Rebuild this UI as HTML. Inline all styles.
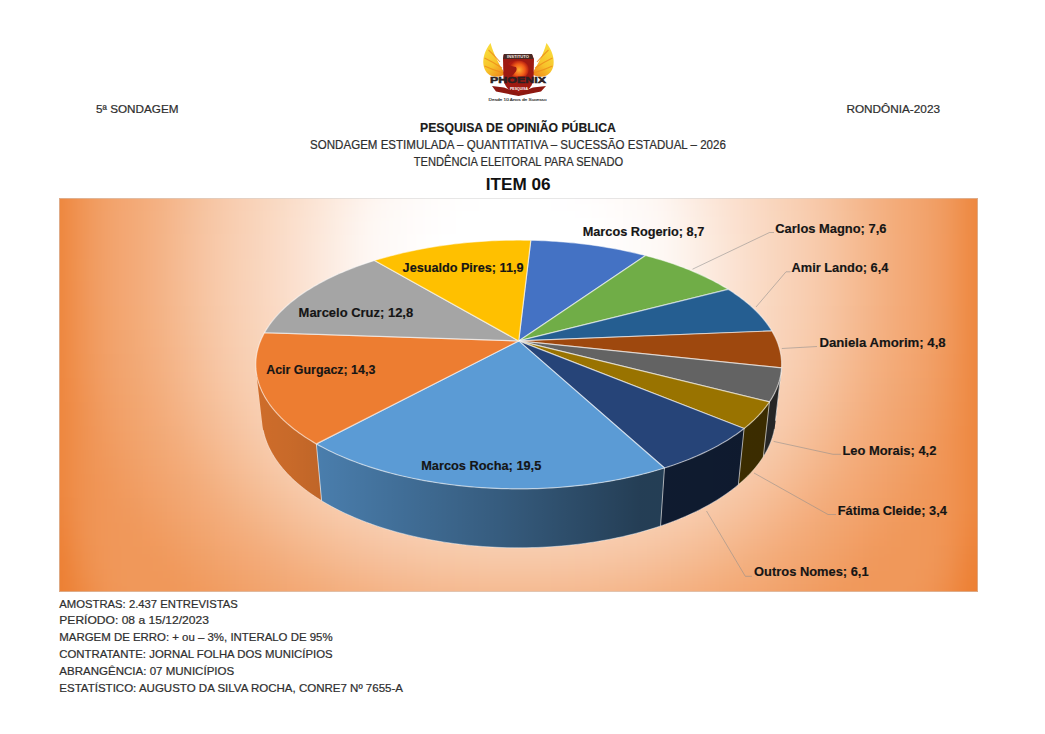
<!DOCTYPE html>
<html><head><meta charset="utf-8"><style>
html,body{margin:0;padding:0;background:#fff;}
svg{display:block;font-family:"Liberation Sans", sans-serif;}
</style></head><body>
<svg width="1045" height="734" viewBox="0 0 1045 734">
<defs>

<linearGradient id="shade" gradientUnits="userSpaceOnUse" x1="255" y1="0" x2="782" y2="0">
  <stop offset="0" stop-color="#000" stop-opacity="0.13"/>
  <stop offset="0.066" stop-color="#000" stop-opacity="0.155"/>
  <stop offset="0.18" stop-color="#000" stop-opacity="0.23"/>
  <stop offset="0.465" stop-color="#000" stop-opacity="0.41"/>
  <stop offset="0.73" stop-color="#000" stop-opacity="0.60"/>
  <stop offset="1" stop-color="#000" stop-opacity="0.62"/>
</linearGradient>
<clipPath id="sideclip"><path d="M781.38,370.20 L781.11,372.45 L774.97,425.52 L775.25,423.15ZM781.11,372.45 L780.76,374.71 L774.61,427.91 L774.97,425.52ZM780.76,374.71 L780.32,376.97 L774.16,430.29 L774.61,427.91ZM780.32,376.97 L779.80,379.24 L773.63,432.69 L774.16,430.29ZM779.80,379.24 L779.18,381.51 L773.00,435.08 L773.63,432.69ZM779.18,381.51 L778.47,383.79 L772.29,437.47 L773.00,435.08ZM778.47,383.79 L777.67,386.06 L771.49,439.87 L772.29,437.47ZM777.67,386.06 L776.77,388.33 L770.59,442.26 L771.49,439.87ZM776.77,388.33 L775.79,390.60 L769.61,444.66 L770.59,442.26ZM775.79,390.60 L774.71,392.88 L768.54,447.05 L769.61,444.66ZM774.71,392.88 L773.54,395.15 L767.38,449.44 L768.54,447.05ZM773.54,395.15 L772.27,397.41 L766.12,451.83 L767.38,449.44ZM772.27,397.41 L770.91,399.67 L764.77,454.21 L766.12,451.83ZM770.91,399.67 L769.45,401.93 L763.33,456.58 L764.77,454.21Z"/><path d="M316.37,443.90 L313.32,442.13 L318.62,498.83 L321.60,500.69ZM313.32,442.13 L310.35,440.34 L315.71,496.95 L318.62,498.83ZM310.35,440.34 L307.45,438.53 L312.88,495.05 L315.71,496.95ZM307.45,438.53 L304.64,436.69 L310.12,493.13 L312.88,495.05ZM304.64,436.69 L301.90,434.84 L307.44,491.18 L310.12,493.13ZM301.90,434.84 L299.24,432.97 L304.83,489.22 L307.44,491.18ZM299.24,432.97 L296.66,431.09 L302.30,487.24 L304.83,489.22ZM296.66,431.09 L294.15,429.18 L299.85,485.24 L302.30,487.24ZM294.15,429.18 L291.73,427.26 L297.47,483.22 L299.85,485.24ZM291.73,427.26 L289.39,425.33 L295.17,481.19 L297.47,483.22ZM289.39,425.33 L287.12,423.38 L292.95,479.14 L295.17,481.19ZM287.12,423.38 L284.94,421.41 L290.80,477.07 L292.95,479.14ZM284.94,421.41 L282.83,419.44 L288.73,475.00 L290.80,477.07ZM282.83,419.44 L280.81,417.45 L286.74,472.91 L288.73,475.00ZM280.81,417.45 L278.87,415.45 L284.83,470.81 L286.74,472.91ZM278.87,415.45 L277.00,413.44 L283.00,468.69 L284.83,470.81ZM277.00,413.44 L275.22,411.42 L281.24,466.57 L283.00,468.69ZM275.22,411.42 L273.52,409.40 L279.56,464.44 L281.24,466.57ZM273.52,409.40 L271.89,407.36 L277.96,462.30 L279.56,464.44ZM271.89,407.36 L270.35,405.32 L276.44,460.15 L277.96,462.30ZM270.35,405.32 L268.89,403.27 L275.00,458.00 L276.44,460.15ZM268.89,403.27 L267.50,401.22 L273.63,455.83 L275.00,458.00ZM267.50,401.22 L266.20,399.16 L272.34,453.67 L273.63,455.83ZM266.20,399.16 L264.97,397.10 L271.12,451.50 L272.34,453.67ZM264.97,397.10 L263.82,395.03 L269.99,449.32 L271.12,451.50ZM263.82,395.03 L262.76,392.96 L268.92,447.14 L269.99,449.32ZM262.76,392.96 L261.76,390.89 L267.94,444.96 L268.92,447.14ZM261.76,390.89 L260.85,388.82 L267.03,442.78 L267.94,444.96ZM260.85,388.82 L260.01,386.74 L266.20,440.59 L267.03,442.78ZM260.01,386.74 L259.26,384.67 L265.44,438.41 L266.20,440.59ZM259.26,384.67 L258.57,382.60 L264.75,436.22 L265.44,438.41ZM258.57,382.60 L257.96,380.53 L264.14,434.04 L264.75,436.22ZM257.96,380.53 L257.43,378.46 L263.60,431.86 L264.14,434.04ZM257.43,378.46 L256.98,376.39 L263.14,429.68 L263.60,431.86ZM256.98,376.39 L256.59,374.32 L262.74,427.50 L263.14,429.68ZM256.59,374.32 L256.28,372.26 L262.42,425.33 L262.74,427.50Z"/><path d="M769.45,401.93 L767.88,404.20 L761.78,458.98 L763.33,456.58ZM767.88,404.20 L766.21,406.47 L760.13,461.36 L761.78,458.98ZM766.21,406.47 L764.45,408.73 L758.39,463.74 L760.13,461.36ZM764.45,408.73 L762.58,410.99 L756.55,466.11 L758.39,463.74ZM762.58,410.99 L760.62,413.23 L754.62,468.47 L756.55,466.11ZM760.62,413.23 L758.55,415.46 L752.59,470.81 L754.62,468.47ZM758.55,415.46 L756.39,417.67 L750.46,473.14 L752.59,470.81ZM756.39,417.67 L754.13,419.88 L748.24,475.46 L750.46,473.14ZM754.13,419.88 L751.77,422.06 L745.92,477.76 L748.24,475.46ZM751.77,422.06 L749.31,424.24 L743.51,480.04 L745.92,477.76ZM749.31,424.24 L746.76,426.39 L741.00,482.31 L743.51,480.04ZM746.76,426.39 L744.10,428.53 L738.39,484.55 L741.00,482.31Z"/><path d="M744.10,428.53 L741.53,430.51 L735.87,486.64 L738.39,484.55ZM741.53,430.51 L738.87,432.48 L733.27,488.70 L735.87,486.64ZM738.87,432.48 L736.13,434.43 L730.58,490.74 L733.27,488.70ZM736.13,434.43 L733.30,436.35 L727.81,492.77 L730.58,490.74ZM733.30,436.35 L730.39,438.26 L724.96,494.77 L727.81,492.77ZM730.39,438.26 L727.39,440.14 L722.02,496.75 L724.96,494.77ZM727.39,440.14 L724.31,442.01 L719.01,498.70 L722.02,496.75ZM724.31,442.01 L721.15,443.85 L715.92,500.63 L719.01,498.70ZM721.15,443.85 L717.91,445.66 L712.75,502.54 L715.92,500.63ZM717.91,445.66 L714.58,447.45 L709.50,504.42 L712.75,502.54ZM714.58,447.45 L711.18,449.21 L706.17,506.27 L709.50,504.42ZM711.18,449.21 L707.70,450.95 L702.77,508.09 L706.17,506.27ZM707.70,450.95 L704.14,452.66 L699.29,509.88 L702.77,508.09ZM704.14,452.66 L700.50,454.34 L695.73,511.64 L699.29,509.88ZM700.50,454.34 L696.78,455.99 L692.10,513.37 L695.73,511.64ZM696.78,455.99 L692.99,457.60 L688.40,515.06 L692.10,513.37ZM692.99,457.60 L689.13,459.19 L684.63,516.73 L688.40,515.06ZM689.13,459.19 L685.19,460.74 L680.79,518.36 L684.63,516.73ZM685.19,460.74 L681.18,462.26 L676.88,519.95 L680.79,518.36ZM681.18,462.26 L677.10,463.75 L672.90,521.51 L676.88,519.95ZM677.10,463.75 L672.95,465.20 L668.85,523.03 L672.90,521.51ZM672.95,465.20 L668.74,466.61 L664.74,524.51 L668.85,523.03ZM668.74,466.61 L664.46,467.99 L660.57,525.95 L664.74,524.51Z"/><path d="M664.46,467.99 L660.31,469.27 L656.53,527.29 L660.57,525.95ZM660.31,469.27 L656.11,470.52 L652.43,528.60 L656.53,527.29ZM656.11,470.52 L651.84,471.73 L648.28,529.86 L652.43,528.60ZM651.84,471.73 L647.53,472.90 L644.07,531.09 L648.28,529.86ZM647.53,472.90 L643.16,474.03 L639.82,532.28 L644.07,531.09ZM643.16,474.03 L638.74,475.13 L635.51,533.43 L639.82,532.28ZM638.74,475.13 L634.27,476.19 L631.16,534.54 L635.51,533.43ZM634.27,476.19 L629.76,477.21 L626.76,535.61 L631.16,534.54ZM629.76,477.21 L625.19,478.19 L622.32,536.63 L626.76,535.61ZM625.19,478.19 L620.59,479.13 L617.83,537.62 L622.32,536.63ZM620.59,479.13 L615.94,480.03 L613.30,538.56 L617.83,537.62ZM615.94,480.03 L611.24,480.89 L608.74,539.46 L613.30,538.56ZM611.24,480.89 L606.51,481.71 L604.13,540.31 L608.74,539.46ZM606.51,481.71 L601.75,482.48 L599.49,541.12 L604.13,540.31ZM601.75,482.48 L596.95,483.21 L594.82,541.89 L599.49,541.12ZM596.95,483.21 L592.11,483.90 L590.11,542.61 L594.82,541.89ZM592.11,483.90 L587.24,484.55 L585.38,543.28 L590.11,542.61ZM587.24,484.55 L582.35,485.15 L580.61,543.91 L585.38,543.28ZM582.35,485.15 L577.42,485.70 L575.82,544.50 L580.61,543.91ZM577.42,485.70 L572.48,486.22 L571.01,545.03 L575.82,544.50ZM572.48,486.22 L567.50,486.68 L566.17,545.52 L571.01,545.03ZM567.50,486.68 L562.51,487.11 L561.31,545.96 L566.17,545.52ZM562.51,487.11 L557.50,487.48 L556.44,546.36 L561.31,545.96ZM557.50,487.48 L552.47,487.82 L551.55,546.70 L556.44,546.36ZM552.47,487.82 L547.43,488.10 L546.64,547.00 L551.55,546.70ZM547.43,488.10 L542.37,488.34 L541.73,547.25 L546.64,547.00ZM542.37,488.34 L537.31,488.53 L536.80,547.46 L541.73,547.25ZM537.31,488.53 L532.24,488.68 L531.87,547.61 L536.80,547.46ZM532.24,488.68 L527.16,488.78 L526.93,547.71 L531.87,547.61ZM527.16,488.78 L522.07,488.83 L521.98,547.77 L526.93,547.71ZM522.07,488.83 L516.99,488.84 L517.04,547.78 L521.98,547.77ZM516.99,488.84 L511.91,488.80 L512.09,547.74 L517.04,547.78ZM511.91,488.80 L506.82,488.72 L507.15,547.65 L512.09,547.74ZM506.82,488.72 L501.75,488.59 L502.21,547.51 L507.15,547.65ZM501.75,488.59 L496.68,488.41 L497.28,547.32 L502.21,547.51ZM496.68,488.41 L491.62,488.18 L492.36,547.09 L497.28,547.32ZM491.62,488.18 L486.58,487.91 L487.45,546.81 L492.36,547.09ZM486.58,487.91 L481.54,487.60 L482.56,546.47 L487.45,546.81ZM481.54,487.60 L476.53,487.23 L477.68,546.10 L482.56,546.47ZM476.53,487.23 L471.53,486.83 L472.82,545.67 L477.68,546.10ZM471.53,486.83 L466.55,486.37 L467.97,545.20 L472.82,545.67ZM466.55,486.37 L461.59,485.88 L463.15,544.67 L467.97,545.20ZM461.59,485.88 L456.66,485.33 L458.35,544.11 L463.15,544.67ZM456.66,485.33 L451.76,484.75 L453.58,543.49 L458.35,544.11ZM451.76,484.75 L446.88,484.11 L448.83,542.83 L453.58,543.49ZM446.88,484.11 L442.03,483.44 L444.12,542.13 L448.83,542.83ZM442.03,483.44 L437.22,482.72 L439.43,541.37 L444.12,542.13ZM437.22,482.72 L432.44,481.96 L434.78,540.58 L439.43,541.37ZM432.44,481.96 L427.70,481.16 L430.17,539.74 L434.78,540.58ZM427.70,481.16 L423.00,480.31 L425.59,538.85 L430.17,539.74ZM423.00,480.31 L418.33,479.43 L421.05,537.93 L425.59,538.85ZM418.33,479.43 L413.71,478.50 L416.55,536.95 L421.05,537.93ZM413.71,478.50 L409.13,477.53 L412.09,535.94 L416.55,536.95ZM409.13,477.53 L404.60,476.52 L407.68,534.89 L412.09,535.94ZM404.60,476.52 L400.12,475.48 L403.31,533.79 L407.68,534.89ZM400.12,475.48 L395.68,474.39 L398.99,532.65 L403.31,533.79ZM395.68,474.39 L391.30,473.27 L394.72,531.48 L398.99,532.65ZM391.30,473.27 L386.96,472.11 L390.50,530.26 L394.72,531.48ZM386.96,472.11 L382.69,470.91 L386.33,529.01 L390.50,530.26ZM382.69,470.91 L378.46,469.68 L382.21,527.72 L386.33,529.01ZM378.46,469.68 L374.30,468.41 L378.15,526.39 L382.21,527.72ZM374.30,468.41 L370.19,467.11 L374.14,525.02 L378.15,526.39ZM370.19,467.11 L366.14,465.77 L370.20,523.62 L374.14,525.02ZM366.14,465.77 L362.15,464.40 L366.31,522.18 L370.20,523.62ZM362.15,464.40 L358.22,462.99 L362.48,520.71 L366.31,522.18ZM358.22,462.99 L354.36,461.56 L358.71,519.21 L362.48,520.71ZM354.36,461.56 L350.56,460.09 L355.01,517.67 L358.71,519.21ZM350.56,460.09 L346.83,458.60 L351.36,516.11 L355.01,517.67ZM346.83,458.60 L343.17,457.07 L347.79,514.51 L351.36,516.11ZM343.17,457.07 L339.57,455.52 L344.27,512.88 L347.79,514.51ZM339.57,455.52 L336.04,453.94 L340.83,511.22 L344.27,512.88ZM336.04,453.94 L332.58,452.33 L337.45,509.53 L340.83,511.22ZM332.58,452.33 L329.20,450.69 L334.14,507.81 L337.45,509.53ZM329.20,450.69 L325.88,449.03 L330.90,506.07 L334.14,507.81ZM325.88,449.03 L322.64,447.34 L327.73,504.30 L330.90,506.07ZM322.64,447.34 L319.46,445.63 L324.63,502.51 L327.73,504.30ZM319.46,445.63 L316.37,443.90 L321.60,500.69 L324.63,502.51Z"/></clipPath>
</defs>
<rect width="1045" height="734" fill="#fff"/>

<g id="logo">
  <defs>
    <linearGradient id="wingL" gradientUnits="userSpaceOnUse" x1="486" y1="50" x2="506" y2="72">
      <stop offset="0" stop-color="#F9DA3A"/><stop offset="0.55" stop-color="#F7C22A"/><stop offset="1" stop-color="#F08A1C"/>
    </linearGradient>
    <linearGradient id="wingR" gradientUnits="userSpaceOnUse" x1="551" y1="50" x2="531" y2="72">
      <stop offset="0" stop-color="#F9DA3A"/><stop offset="0.55" stop-color="#F7C22A"/><stop offset="1" stop-color="#F08A1C"/>
    </linearGradient>
    <radialGradient id="headG" cx="519" cy="70" r="10" gradientUnits="userSpaceOnUse">
      <stop offset="0" stop-color="#FFB030"/><stop offset="0.6" stop-color="#F05A18"/><stop offset="1" stop-color="#B01A10"/>
    </radialGradient>
  </defs>
  <path d="M505,74 C500,65 494,56 490.5,43 C485,50 482.5,58 483.5,65 C484.5,71 488,75.5 494,76.5 C498,77 502,76.5 505,74 Z" fill="url(#wingL)"/>
  <path d="M 532,74 C 537,65 543,56 546.5,43 C 552,50 554.5,58 553.5,65 C 552.5,71 549,75.5 543,76.5 C 539,77 535,76.5 532,74 Z" fill="url(#wingR)"/>
  <g fill="none" stroke="#EE8A1A" stroke-width="1.1" stroke-opacity="0.8">
    <path d="M488.5,50 Q494,55 500,62"/><path d="M 548.5,50 Q 543,55 537,62"/>
    <path d="M484.5,58 Q493,62 502,68"/><path d="M 552.5,58 Q 544,62 535,68"/>
    <path d="M484.5,66 Q493,70 503.5,73"/><path d="M 552.5,66 Q 544,70 533.5,73"/>
  </g>
  <!-- shield -->
  <path d="M503.5,54.5 L532,54.5 L534,59 L533.5,80 C532,88 526,92 518.5,95.5 C511,92 505,88 503.5,80 L503,59 Z" fill="#9E1A12"/>
  <path d="M504,54 L532,54 L533.5,59 L503,59 Z" fill="#4a2a24"/>
  <text x="518" y="58.3" text-anchor="middle" font-family="Liberation Sans" font-weight="bold" font-size="3.6" fill="#f2e8e0" textLength="22" lengthAdjust="spacingAndGlyphs">INSTITUTO</text>
  <path d="M508,64 C511,60 522,59 527,64 C530,68 529,73 526,76 L511,77 C515,73 518,70 516,67 C513,66 510,66 508,64 Z" fill="url(#headG)"/>
  <path d="M492,86 L504,87.5 L518.5,93 L533,87.5 L546,86 L541,91.5 L518.5,96 L496,91.5 Z" fill="#8E1810"/>
  <text x="518" y="82.6" text-anchor="middle" font-family="Liberation Sans" font-weight="bold" font-size="9.3" fill="#2b2022" stroke="#2b2022" stroke-width="0.5" textLength="56" lengthAdjust="spacingAndGlyphs">PHOENIX</text>
  <text x="519" y="90.3" text-anchor="middle" font-family="Liberation Sans" font-weight="bold" font-size="4" fill="#fff" textLength="18" lengthAdjust="spacingAndGlyphs">PESQUISA</text>
  <text x="517.6" y="100.6" text-anchor="middle" font-family="Liberation Sans" font-size="4.2" fill="#333" stroke="#333" stroke-width="0.15" textLength="58" lengthAdjust="spacingAndGlyphs">Desde 10 Anos de Sucesso</text>
</g>
<text x="96.1" y="112.8" textLength="82.4" lengthAdjust="spacingAndGlyphs" font-size="11" font-weight="normal" fill="#2e2e2e" stroke="#2e2e2e" stroke-width="0.2" >5ª SONDAGEM</text><text x="846.4" y="112.5" textLength="93.6" lengthAdjust="spacingAndGlyphs" font-size="11" font-weight="normal" fill="#2e2e2e" stroke="#2e2e2e" stroke-width="0.2" >RONDÔNIA-2023</text><text x="420.0" y="131.5" textLength="195.8" lengthAdjust="spacingAndGlyphs" font-size="12.3" font-weight="bold" fill="#1a1a1a" stroke="#1a1a1a" stroke-width="0.15" >PESQUISA DE OPINIÃO PÚBLICA</text><text x="310.1" y="148.6" textLength="415.8" lengthAdjust="spacingAndGlyphs" font-size="12.2" font-weight="normal" fill="#2e2e2e" stroke="#2e2e2e" stroke-width="0.2" >SONDAGEM ESTIMULADA – QUANTITATIVA – SUCESSÃO ESTADUAL – 2026</text><text x="413.7" y="166.3" textLength="209.5" lengthAdjust="spacingAndGlyphs" font-size="12.2" font-weight="normal" fill="#2e2e2e" stroke="#2e2e2e" stroke-width="0.2" >TENDÊNCIA ELEITORAL PARA SENADO</text><text x="485.8" y="190.0" textLength="64.8" lengthAdjust="spacingAndGlyphs" font-size="16.2" font-weight="bold" fill="#111" stroke="#111" stroke-width="0.15" stroke-opacity="0">ITEM 06</text><text x="59.3" y="607.7" textLength="178.5" lengthAdjust="spacingAndGlyphs" font-size="11" font-weight="normal" fill="#2e2e2e" stroke="#2e2e2e" stroke-width="0.2" >AMOSTRAS: 2.437 ENTREVISTAS</text><text x="59.3" y="624.4" textLength="149.6" lengthAdjust="spacingAndGlyphs" font-size="11" font-weight="normal" fill="#2e2e2e" stroke="#2e2e2e" stroke-width="0.2" >PERÍODO: 08 a 15/12/2023</text><text x="59.3" y="641.4" textLength="273.3" lengthAdjust="spacingAndGlyphs" font-size="11" font-weight="normal" fill="#2e2e2e" stroke="#2e2e2e" stroke-width="0.2" >MARGEM DE ERRO: + ou – 3%, INTERALO DE 95%</text><text x="59.3" y="658.4" textLength="273.3" lengthAdjust="spacingAndGlyphs" font-size="11" font-weight="normal" fill="#2e2e2e" stroke="#2e2e2e" stroke-width="0.2" >CONTRATANTE: JORNAL FOLHA DOS MUNICÍPIOS</text><text x="59.3" y="675.1" textLength="174.9" lengthAdjust="spacingAndGlyphs" font-size="11" font-weight="normal" fill="#2e2e2e" stroke="#2e2e2e" stroke-width="0.2" >ABRANGÊNCIA: 07 MUNICÍPIOS</text><text x="59.3" y="692.0" textLength="343.7" lengthAdjust="spacingAndGlyphs" font-size="11" font-weight="normal" fill="#2e2e2e" stroke="#2e2e2e" stroke-width="0.2" >ESTATÍSTICO: AUGUSTO DA SILVA ROCHA, CONRE7 Nº 7655-A</text>
<clipPath id="chartclip"><rect x="59" y="198" width="919" height="394"/></clipPath><filter id="bgblur" filterUnits="userSpaceOnUse" x="-20" y="120" width="1100" height="560" color-interpolation-filters="sRGB"><feGaussianBlur stdDeviation="12"/></filter><g clip-path="url(#chartclip)"><g filter="url(#bgblur)"><rect x="-1" y="138" width="24" height="24" fill="#ec7e31"/><rect x="23" y="138" width="24" height="24" fill="#ec7e31"/><rect x="47" y="138" width="24" height="24" fill="#ee863d"/><rect x="71" y="138" width="24" height="24" fill="#f09454"/><rect x="95" y="138" width="24" height="24" fill="#f19f66"/><rect x="119" y="138" width="24" height="24" fill="#f2a671"/><rect x="143" y="138" width="24" height="24" fill="#f3ac7b"/><rect x="167" y="138" width="24" height="24" fill="#f4b58a"/><rect x="191" y="138" width="24" height="24" fill="#f6be98"/><rect x="215" y="138" width="24" height="24" fill="#f7c7a6"/><rect x="239" y="138" width="24" height="24" fill="#f8ceb2"/><rect x="263" y="138" width="24" height="24" fill="#f9d4bc"/><rect x="287" y="138" width="24" height="24" fill="#fadbc5"/><rect x="311" y="138" width="24" height="24" fill="#fbe1cf"/><rect x="335" y="138" width="24" height="24" fill="#fce7d9"/><rect x="359" y="138" width="24" height="24" fill="#fcede3"/><rect x="383" y="138" width="24" height="24" fill="#fdf3ec"/><rect x="407" y="138" width="24" height="24" fill="#fef8f4"/><rect x="431" y="138" width="24" height="24" fill="#fef9f6"/><rect x="455" y="138" width="24" height="24" fill="#fefaf8"/><rect x="479" y="138" width="24" height="24" fill="#fefaf9"/><rect x="503" y="138" width="24" height="24" fill="#fefbf9"/><rect x="527" y="138" width="24" height="24" fill="#fefaf9"/><rect x="551" y="138" width="24" height="24" fill="#fefaf8"/><rect x="575" y="138" width="24" height="24" fill="#fef9f7"/><rect x="599" y="138" width="24" height="24" fill="#fef8f5"/><rect x="623" y="138" width="24" height="24" fill="#fdf4ef"/><rect x="647" y="138" width="24" height="24" fill="#fdefe6"/><rect x="671" y="138" width="24" height="24" fill="#fce9dc"/><rect x="695" y="138" width="24" height="24" fill="#fbe2d2"/><rect x="719" y="138" width="24" height="24" fill="#fadcc8"/><rect x="743" y="138" width="24" height="24" fill="#f9d6be"/><rect x="767" y="138" width="24" height="24" fill="#f8d0b4"/><rect x="791" y="138" width="24" height="24" fill="#f7caaa"/><rect x="815" y="138" width="24" height="24" fill="#f6c19c"/><rect x="839" y="138" width="24" height="24" fill="#f5b88d"/><rect x="863" y="138" width="24" height="24" fill="#f3af7f"/><rect x="887" y="138" width="24" height="24" fill="#f2a873"/><rect x="911" y="138" width="24" height="24" fill="#f2a169"/><rect x="935" y="138" width="24" height="24" fill="#f0985a"/><rect x="959" y="138" width="24" height="24" fill="#ee8a44"/><rect x="983" y="138" width="24" height="24" fill="#ec7e31"/><rect x="1007" y="138" width="24" height="24" fill="#ec7e31"/><rect x="1031" y="138" width="24" height="24" fill="#ec7e31"/><rect x="-1" y="162" width="24" height="24" fill="#ec7e31"/><rect x="23" y="162" width="24" height="24" fill="#ec7e31"/><rect x="47" y="162" width="24" height="24" fill="#ee863d"/><rect x="71" y="162" width="24" height="24" fill="#f09555"/><rect x="95" y="162" width="24" height="24" fill="#f1a168"/><rect x="119" y="162" width="24" height="24" fill="#f2a773"/><rect x="143" y="162" width="24" height="24" fill="#f3ae7e"/><rect x="167" y="162" width="24" height="24" fill="#f5b88d"/><rect x="191" y="162" width="24" height="24" fill="#f6c19c"/><rect x="215" y="162" width="24" height="24" fill="#f7caab"/><rect x="239" y="162" width="24" height="24" fill="#f8d0b5"/><rect x="263" y="162" width="24" height="24" fill="#f9d7bf"/><rect x="287" y="162" width="24" height="24" fill="#faddc9"/><rect x="311" y="162" width="24" height="24" fill="#fbe4d4"/><rect x="335" y="162" width="24" height="24" fill="#fcebe0"/><rect x="359" y="162" width="24" height="24" fill="#fdf2ea"/><rect x="383" y="162" width="24" height="24" fill="#fef8f4"/><rect x="407" y="162" width="24" height="24" fill="#fefaf7"/><rect x="431" y="162" width="24" height="24" fill="#fefbf9"/><rect x="455" y="162" width="24" height="24" fill="#fffcfb"/><rect x="479" y="162" width="24" height="24" fill="#fffdfc"/><rect x="503" y="162" width="24" height="24" fill="#fffdfd"/><rect x="527" y="162" width="24" height="24" fill="#fffdfc"/><rect x="551" y="162" width="24" height="24" fill="#fffcfc"/><rect x="575" y="162" width="24" height="24" fill="#fffbfa"/><rect x="599" y="162" width="24" height="24" fill="#fefaf8"/><rect x="623" y="162" width="24" height="24" fill="#fef8f5"/><rect x="647" y="162" width="24" height="24" fill="#fdf3ed"/><rect x="671" y="162" width="24" height="24" fill="#fcede2"/><rect x="695" y="162" width="24" height="24" fill="#fbe6d7"/><rect x="719" y="162" width="24" height="24" fill="#fadfcc"/><rect x="743" y="162" width="24" height="24" fill="#f9d8c2"/><rect x="767" y="162" width="24" height="24" fill="#f9d2b8"/><rect x="791" y="162" width="24" height="24" fill="#f8ccad"/><rect x="815" y="162" width="24" height="24" fill="#f6c3a0"/><rect x="839" y="162" width="24" height="24" fill="#f5ba91"/><rect x="863" y="162" width="24" height="24" fill="#f4b182"/><rect x="887" y="162" width="24" height="24" fill="#f3a976"/><rect x="911" y="162" width="24" height="24" fill="#f2a36b"/><rect x="935" y="162" width="24" height="24" fill="#f0995c"/><rect x="959" y="162" width="24" height="24" fill="#ee8a44"/><rect x="983" y="162" width="24" height="24" fill="#ec7e31"/><rect x="1007" y="162" width="24" height="24" fill="#ec7e31"/><rect x="1031" y="162" width="24" height="24" fill="#ec7e31"/><rect x="-1" y="186" width="24" height="24" fill="#ec7e31"/><rect x="23" y="186" width="24" height="24" fill="#ec7e31"/><rect x="47" y="186" width="24" height="24" fill="#ee863d"/><rect x="71" y="186" width="24" height="24" fill="#f09657"/><rect x="95" y="186" width="24" height="24" fill="#f2a26a"/><rect x="119" y="186" width="24" height="24" fill="#f3a875"/><rect x="143" y="186" width="24" height="24" fill="#f4b081"/><rect x="167" y="186" width="24" height="24" fill="#f5b990"/><rect x="191" y="186" width="24" height="24" fill="#f6c39f"/><rect x="215" y="186" width="24" height="24" fill="#f8cbad"/><rect x="239" y="186" width="24" height="24" fill="#f9d2b8"/><rect x="263" y="186" width="24" height="24" fill="#f9d9c2"/><rect x="287" y="186" width="24" height="24" fill="#fadfcd"/><rect x="311" y="186" width="24" height="24" fill="#fce7d9"/><rect x="335" y="186" width="24" height="24" fill="#fdeee4"/><rect x="359" y="186" width="24" height="24" fill="#fef5f0"/><rect x="383" y="186" width="24" height="24" fill="#fef9f6"/><rect x="407" y="186" width="24" height="24" fill="#fefbf9"/><rect x="431" y="186" width="24" height="24" fill="#fffdfc"/><rect x="455" y="186" width="24" height="24" fill="#fffefe"/><rect x="479" y="186" width="24" height="24" fill="#ffffff"/><rect x="503" y="186" width="24" height="24" fill="#ffffff"/><rect x="527" y="186" width="24" height="24" fill="#ffffff"/><rect x="551" y="186" width="24" height="24" fill="#fffeff"/><rect x="575" y="186" width="24" height="24" fill="#fffdfd"/><rect x="599" y="186" width="24" height="24" fill="#fffbfa"/><rect x="623" y="186" width="24" height="24" fill="#fefaf7"/><rect x="647" y="186" width="24" height="24" fill="#fef7f3"/><rect x="671" y="186" width="24" height="24" fill="#fdf0e7"/><rect x="695" y="186" width="24" height="24" fill="#fce8dc"/><rect x="719" y="186" width="24" height="24" fill="#fbe1d0"/><rect x="743" y="186" width="24" height="24" fill="#fadac5"/><rect x="767" y="186" width="24" height="24" fill="#f9d4ba"/><rect x="791" y="186" width="24" height="24" fill="#f8cdb0"/><rect x="815" y="186" width="24" height="24" fill="#f7c5a3"/><rect x="839" y="186" width="24" height="24" fill="#f5bc94"/><rect x="863" y="186" width="24" height="24" fill="#f4b285"/><rect x="887" y="186" width="24" height="24" fill="#f3aa77"/><rect x="911" y="186" width="24" height="24" fill="#f2a36d"/><rect x="935" y="186" width="24" height="24" fill="#f09a5d"/><rect x="959" y="186" width="24" height="24" fill="#ee8a44"/><rect x="983" y="186" width="24" height="24" fill="#ec7e31"/><rect x="1007" y="186" width="24" height="24" fill="#ec7e31"/><rect x="1031" y="186" width="24" height="24" fill="#ec7e31"/><rect x="-1" y="210" width="24" height="24" fill="#ec7e31"/><rect x="23" y="210" width="24" height="24" fill="#ec7e31"/><rect x="47" y="210" width="24" height="24" fill="#ee863d"/><rect x="71" y="210" width="24" height="24" fill="#f09657"/><rect x="95" y="210" width="24" height="24" fill="#f2a26b"/><rect x="119" y="210" width="24" height="24" fill="#f3a976"/><rect x="143" y="210" width="24" height="24" fill="#f4b182"/><rect x="167" y="210" width="24" height="24" fill="#f5ba92"/><rect x="191" y="210" width="24" height="24" fill="#f6c4a1"/><rect x="215" y="210" width="24" height="24" fill="#f8ccae"/><rect x="239" y="210" width="24" height="24" fill="#f9d3b9"/><rect x="263" y="210" width="24" height="24" fill="#fadac4"/><rect x="287" y="210" width="24" height="24" fill="#fbe1cf"/><rect x="311" y="210" width="24" height="24" fill="#fce8db"/><rect x="335" y="210" width="24" height="24" fill="#fdf0e8"/><rect x="359" y="210" width="24" height="24" fill="#fef8f4"/><rect x="383" y="210" width="24" height="24" fill="#fefaf8"/><rect x="407" y="210" width="24" height="24" fill="#fffcfb"/><rect x="431" y="210" width="24" height="24" fill="#fffefe"/><rect x="455" y="210" width="24" height="24" fill="#ffffff"/><rect x="479" y="210" width="24" height="24" fill="#ffffff"/><rect x="503" y="210" width="24" height="24" fill="#ffffff"/><rect x="527" y="210" width="24" height="24" fill="#ffffff"/><rect x="551" y="210" width="24" height="24" fill="#ffffff"/><rect x="575" y="210" width="24" height="24" fill="#ffffff"/><rect x="599" y="210" width="24" height="24" fill="#fffdfc"/><rect x="623" y="210" width="24" height="24" fill="#fefaf9"/><rect x="647" y="210" width="24" height="24" fill="#fef8f5"/><rect x="671" y="210" width="24" height="24" fill="#fdf2eb"/><rect x="695" y="210" width="24" height="24" fill="#fceade"/><rect x="719" y="210" width="24" height="24" fill="#fbe2d2"/><rect x="743" y="210" width="24" height="24" fill="#fadbc7"/><rect x="767" y="210" width="24" height="24" fill="#f9d5bc"/><rect x="791" y="210" width="24" height="24" fill="#f8ceb1"/><rect x="815" y="210" width="24" height="24" fill="#f7c6a5"/><rect x="839" y="210" width="24" height="24" fill="#f5bd95"/><rect x="863" y="210" width="24" height="24" fill="#f4b386"/><rect x="887" y="210" width="24" height="24" fill="#f3ab78"/><rect x="911" y="210" width="24" height="24" fill="#f2a46e"/><rect x="935" y="210" width="24" height="24" fill="#f09a5e"/><rect x="959" y="210" width="24" height="24" fill="#ee8a44"/><rect x="983" y="210" width="24" height="24" fill="#ec7e31"/><rect x="1007" y="210" width="24" height="24" fill="#ec7e31"/><rect x="1031" y="210" width="24" height="24" fill="#ec7e31"/><rect x="-1" y="234" width="24" height="24" fill="#ec7e31"/><rect x="23" y="234" width="24" height="24" fill="#ec7e31"/><rect x="47" y="234" width="24" height="24" fill="#ee863d"/><rect x="71" y="234" width="24" height="24" fill="#f09658"/><rect x="95" y="234" width="24" height="24" fill="#f2a26b"/><rect x="119" y="234" width="24" height="24" fill="#f3a976"/><rect x="143" y="234" width="24" height="24" fill="#f4b183"/><rect x="167" y="234" width="24" height="24" fill="#f5bb92"/><rect x="191" y="234" width="24" height="24" fill="#f7c4a2"/><rect x="215" y="234" width="24" height="24" fill="#f8cdaf"/><rect x="239" y="234" width="24" height="24" fill="#f9d3ba"/><rect x="263" y="234" width="24" height="24" fill="#fadac5"/><rect x="287" y="234" width="24" height="24" fill="#fbe1d0"/><rect x="311" y="234" width="24" height="24" fill="#fce9dd"/><rect x="335" y="234" width="24" height="24" fill="#fdf1e9"/><rect x="359" y="234" width="24" height="24" fill="#fef8f5"/><rect x="383" y="234" width="24" height="24" fill="#fefaf8"/><rect x="407" y="234" width="24" height="24" fill="#fffdfc"/><rect x="431" y="234" width="24" height="24" fill="#ffffff"/><rect x="455" y="234" width="24" height="24" fill="#ffffff"/><rect x="479" y="234" width="24" height="24" fill="#ffffff"/><rect x="503" y="234" width="24" height="24" fill="#ffffff"/><rect x="527" y="234" width="24" height="24" fill="#ffffff"/><rect x="551" y="234" width="24" height="24" fill="#ffffff"/><rect x="575" y="234" width="24" height="24" fill="#ffffff"/><rect x="599" y="234" width="24" height="24" fill="#fffdfd"/><rect x="623" y="234" width="24" height="24" fill="#fefbf9"/><rect x="647" y="234" width="24" height="24" fill="#fef9f6"/><rect x="671" y="234" width="24" height="24" fill="#fdf3ec"/><rect x="695" y="234" width="24" height="24" fill="#fcebe0"/><rect x="719" y="234" width="24" height="24" fill="#fbe3d3"/><rect x="743" y="234" width="24" height="24" fill="#fadcc7"/><rect x="767" y="234" width="24" height="24" fill="#f9d5bd"/><rect x="791" y="234" width="24" height="24" fill="#f8ceb2"/><rect x="815" y="234" width="24" height="24" fill="#f7c7a5"/><rect x="839" y="234" width="24" height="24" fill="#f6bd96"/><rect x="863" y="234" width="24" height="24" fill="#f4b487"/><rect x="887" y="234" width="24" height="24" fill="#f3ab79"/><rect x="911" y="234" width="24" height="24" fill="#f2a46e"/><rect x="935" y="234" width="24" height="24" fill="#f19a5e"/><rect x="959" y="234" width="24" height="24" fill="#ee8a44"/><rect x="983" y="234" width="24" height="24" fill="#ec7e31"/><rect x="1007" y="234" width="24" height="24" fill="#ec7e31"/><rect x="1031" y="234" width="24" height="24" fill="#ec7e31"/><rect x="-1" y="258" width="24" height="24" fill="#ec7e31"/><rect x="23" y="258" width="24" height="24" fill="#ec7e31"/><rect x="47" y="258" width="24" height="24" fill="#ee863d"/><rect x="71" y="258" width="24" height="24" fill="#f09758"/><rect x="95" y="258" width="24" height="24" fill="#f2a26b"/><rect x="119" y="258" width="24" height="24" fill="#f3a976"/><rect x="143" y="258" width="24" height="24" fill="#f4b183"/><rect x="167" y="258" width="24" height="24" fill="#f5bb93"/><rect x="191" y="258" width="24" height="24" fill="#f7c4a2"/><rect x="215" y="258" width="24" height="24" fill="#f8cdaf"/><rect x="239" y="258" width="24" height="24" fill="#f9d4ba"/><rect x="263" y="258" width="24" height="24" fill="#fadac5"/><rect x="287" y="258" width="24" height="24" fill="#fbe1d0"/><rect x="311" y="258" width="24" height="24" fill="#fce9dd"/><rect x="335" y="258" width="24" height="24" fill="#fdf1ea"/><rect x="359" y="258" width="24" height="24" fill="#fef8f5"/><rect x="383" y="258" width="24" height="24" fill="#fefaf9"/><rect x="407" y="258" width="24" height="24" fill="#fffdfc"/><rect x="431" y="258" width="24" height="24" fill="#ffffff"/><rect x="455" y="258" width="24" height="24" fill="#ffffff"/><rect x="479" y="258" width="24" height="24" fill="#ffffff"/><rect x="503" y="258" width="24" height="24" fill="#ffffff"/><rect x="527" y="258" width="24" height="24" fill="#ffffff"/><rect x="551" y="258" width="24" height="24" fill="#ffffff"/><rect x="575" y="258" width="24" height="24" fill="#ffffff"/><rect x="599" y="258" width="24" height="24" fill="#fffdfd"/><rect x="623" y="258" width="24" height="24" fill="#fefbfa"/><rect x="647" y="258" width="24" height="24" fill="#fef9f6"/><rect x="671" y="258" width="24" height="24" fill="#fdf3ed"/><rect x="695" y="258" width="24" height="24" fill="#fcebe0"/><rect x="719" y="258" width="24" height="24" fill="#fbe3d4"/><rect x="743" y="258" width="24" height="24" fill="#fadcc8"/><rect x="767" y="258" width="24" height="24" fill="#f9d5bd"/><rect x="791" y="258" width="24" height="24" fill="#f8ceb2"/><rect x="815" y="258" width="24" height="24" fill="#f7c7a6"/><rect x="839" y="258" width="24" height="24" fill="#f6bd96"/><rect x="863" y="258" width="24" height="24" fill="#f4b487"/><rect x="887" y="258" width="24" height="24" fill="#f3ab79"/><rect x="911" y="258" width="24" height="24" fill="#f2a46e"/><rect x="935" y="258" width="24" height="24" fill="#f19a5e"/><rect x="959" y="258" width="24" height="24" fill="#ee8a44"/><rect x="983" y="258" width="24" height="24" fill="#ec7e31"/><rect x="1007" y="258" width="24" height="24" fill="#ec7e31"/><rect x="1031" y="258" width="24" height="24" fill="#ec7e31"/><rect x="-1" y="282" width="24" height="24" fill="#ec7e31"/><rect x="23" y="282" width="24" height="24" fill="#ec7e31"/><rect x="47" y="282" width="24" height="24" fill="#ee863d"/><rect x="71" y="282" width="24" height="24" fill="#f09658"/><rect x="95" y="282" width="24" height="24" fill="#f2a26b"/><rect x="119" y="282" width="24" height="24" fill="#f3a976"/><rect x="143" y="282" width="24" height="24" fill="#f4b183"/><rect x="167" y="282" width="24" height="24" fill="#f5bb92"/><rect x="191" y="282" width="24" height="24" fill="#f7c4a1"/><rect x="215" y="282" width="24" height="24" fill="#f8cdaf"/><rect x="239" y="282" width="24" height="24" fill="#f9d3ba"/><rect x="263" y="282" width="24" height="24" fill="#fadac5"/><rect x="287" y="282" width="24" height="24" fill="#fbe1d0"/><rect x="311" y="282" width="24" height="24" fill="#fce9dc"/><rect x="335" y="282" width="24" height="24" fill="#fdf1e9"/><rect x="359" y="282" width="24" height="24" fill="#fef8f5"/><rect x="383" y="282" width="24" height="24" fill="#fefaf8"/><rect x="407" y="282" width="24" height="24" fill="#fffdfc"/><rect x="431" y="282" width="24" height="24" fill="#ffffff"/><rect x="455" y="282" width="24" height="24" fill="#ffffff"/><rect x="479" y="282" width="24" height="24" fill="#ffffff"/><rect x="503" y="282" width="24" height="24" fill="#ffffff"/><rect x="527" y="282" width="24" height="24" fill="#ffffff"/><rect x="551" y="282" width="24" height="24" fill="#ffffff"/><rect x="575" y="282" width="24" height="24" fill="#ffffff"/><rect x="599" y="282" width="24" height="24" fill="#fffdfd"/><rect x="623" y="282" width="24" height="24" fill="#fefbf9"/><rect x="647" y="282" width="24" height="24" fill="#fef9f6"/><rect x="671" y="282" width="24" height="24" fill="#fdf3ec"/><rect x="695" y="282" width="24" height="24" fill="#fcebe0"/><rect x="719" y="282" width="24" height="24" fill="#fbe3d3"/><rect x="743" y="282" width="24" height="24" fill="#fadcc7"/><rect x="767" y="282" width="24" height="24" fill="#f9d5bc"/><rect x="791" y="282" width="24" height="24" fill="#f8ceb2"/><rect x="815" y="282" width="24" height="24" fill="#f7c7a5"/><rect x="839" y="282" width="24" height="24" fill="#f6bd96"/><rect x="863" y="282" width="24" height="24" fill="#f4b487"/><rect x="887" y="282" width="24" height="24" fill="#f3ab79"/><rect x="911" y="282" width="24" height="24" fill="#f2a46e"/><rect x="935" y="282" width="24" height="24" fill="#f19a5e"/><rect x="959" y="282" width="24" height="24" fill="#ee8a44"/><rect x="983" y="282" width="24" height="24" fill="#ec7e31"/><rect x="1007" y="282" width="24" height="24" fill="#ec7e31"/><rect x="1031" y="282" width="24" height="24" fill="#ec7e31"/><rect x="-1" y="306" width="24" height="24" fill="#ec7e31"/><rect x="23" y="306" width="24" height="24" fill="#ec7e31"/><rect x="47" y="306" width="24" height="24" fill="#ee863d"/><rect x="71" y="306" width="24" height="24" fill="#f09657"/><rect x="95" y="306" width="24" height="24" fill="#f2a26a"/><rect x="119" y="306" width="24" height="24" fill="#f3a975"/><rect x="143" y="306" width="24" height="24" fill="#f4b182"/><rect x="167" y="306" width="24" height="24" fill="#f5ba91"/><rect x="191" y="306" width="24" height="24" fill="#f6c4a0"/><rect x="215" y="306" width="24" height="24" fill="#f8ccae"/><rect x="239" y="306" width="24" height="24" fill="#f9d3b9"/><rect x="263" y="306" width="24" height="24" fill="#fad9c3"/><rect x="287" y="306" width="24" height="24" fill="#fbe0ce"/><rect x="311" y="306" width="24" height="24" fill="#fce8db"/><rect x="335" y="306" width="24" height="24" fill="#fdefe7"/><rect x="359" y="306" width="24" height="24" fill="#fef7f3"/><rect x="383" y="306" width="24" height="24" fill="#fefaf7"/><rect x="407" y="306" width="24" height="24" fill="#fffcfb"/><rect x="431" y="306" width="24" height="24" fill="#fffefe"/><rect x="455" y="306" width="24" height="24" fill="#ffffff"/><rect x="479" y="306" width="24" height="24" fill="#ffffff"/><rect x="503" y="306" width="24" height="24" fill="#ffffff"/><rect x="527" y="306" width="24" height="24" fill="#ffffff"/><rect x="551" y="306" width="24" height="24" fill="#ffffff"/><rect x="575" y="306" width="24" height="24" fill="#fffeff"/><rect x="599" y="306" width="24" height="24" fill="#fffcfc"/><rect x="623" y="306" width="24" height="24" fill="#fefaf8"/><rect x="647" y="306" width="24" height="24" fill="#fef8f5"/><rect x="671" y="306" width="24" height="24" fill="#fdf1ea"/><rect x="695" y="306" width="24" height="24" fill="#fceade"/><rect x="719" y="306" width="24" height="24" fill="#fbe2d1"/><rect x="743" y="306" width="24" height="24" fill="#fadbc6"/><rect x="767" y="306" width="24" height="24" fill="#f9d4bb"/><rect x="791" y="306" width="24" height="24" fill="#f8ceb1"/><rect x="815" y="306" width="24" height="24" fill="#f7c6a4"/><rect x="839" y="306" width="24" height="24" fill="#f5bc95"/><rect x="863" y="306" width="24" height="24" fill="#f4b386"/><rect x="887" y="306" width="24" height="24" fill="#f3aa78"/><rect x="911" y="306" width="24" height="24" fill="#f2a46e"/><rect x="935" y="306" width="24" height="24" fill="#f09a5e"/><rect x="959" y="306" width="24" height="24" fill="#ee8a44"/><rect x="983" y="306" width="24" height="24" fill="#ec7e31"/><rect x="1007" y="306" width="24" height="24" fill="#ec7e31"/><rect x="1031" y="306" width="24" height="24" fill="#ec7e31"/><rect x="-1" y="330" width="24" height="24" fill="#ec7e31"/><rect x="23" y="330" width="24" height="24" fill="#ec7e31"/><rect x="47" y="330" width="24" height="24" fill="#ee863d"/><rect x="71" y="330" width="24" height="24" fill="#f09556"/><rect x="95" y="330" width="24" height="24" fill="#f2a169"/><rect x="119" y="330" width="24" height="24" fill="#f2a874"/><rect x="143" y="330" width="24" height="24" fill="#f4b080"/><rect x="167" y="330" width="24" height="24" fill="#f5b98f"/><rect x="191" y="330" width="24" height="24" fill="#f6c29e"/><rect x="215" y="330" width="24" height="24" fill="#f8cbac"/><rect x="239" y="330" width="24" height="24" fill="#f8d2b7"/><rect x="263" y="330" width="24" height="24" fill="#f9d8c1"/><rect x="287" y="330" width="24" height="24" fill="#fadfcc"/><rect x="311" y="330" width="24" height="24" fill="#fbe6d8"/><rect x="335" y="330" width="24" height="24" fill="#fcede3"/><rect x="359" y="330" width="24" height="24" fill="#fef4ef"/><rect x="383" y="330" width="24" height="24" fill="#fef9f6"/><rect x="407" y="330" width="24" height="24" fill="#fefbf9"/><rect x="431" y="330" width="24" height="24" fill="#fffcfc"/><rect x="455" y="330" width="24" height="24" fill="#fffefe"/><rect x="479" y="330" width="24" height="24" fill="#fffeff"/><rect x="503" y="330" width="24" height="24" fill="#ffffff"/><rect x="527" y="330" width="24" height="24" fill="#ffffff"/><rect x="551" y="330" width="24" height="24" fill="#fffefe"/><rect x="575" y="330" width="24" height="24" fill="#fffdfc"/><rect x="599" y="330" width="24" height="24" fill="#fefbfa"/><rect x="623" y="330" width="24" height="24" fill="#fef9f7"/><rect x="647" y="330" width="24" height="24" fill="#fef6f1"/><rect x="671" y="330" width="24" height="24" fill="#fdefe6"/><rect x="695" y="330" width="24" height="24" fill="#fce8db"/><rect x="719" y="330" width="24" height="24" fill="#fbe0cf"/><rect x="743" y="330" width="24" height="24" fill="#fadac4"/><rect x="767" y="330" width="24" height="24" fill="#f9d3ba"/><rect x="791" y="330" width="24" height="24" fill="#f8cdaf"/><rect x="815" y="330" width="24" height="24" fill="#f7c5a2"/><rect x="839" y="330" width="24" height="24" fill="#f5bb93"/><rect x="863" y="330" width="24" height="24" fill="#f4b284"/><rect x="887" y="330" width="24" height="24" fill="#f3aa77"/><rect x="911" y="330" width="24" height="24" fill="#f2a36c"/><rect x="935" y="330" width="24" height="24" fill="#f0995d"/><rect x="959" y="330" width="24" height="24" fill="#ee8a44"/><rect x="983" y="330" width="24" height="24" fill="#ec7e31"/><rect x="1007" y="330" width="24" height="24" fill="#ec7e31"/><rect x="1031" y="330" width="24" height="24" fill="#ec7e31"/><rect x="-1" y="354" width="24" height="24" fill="#ec7e31"/><rect x="23" y="354" width="24" height="24" fill="#ec7e31"/><rect x="47" y="354" width="24" height="24" fill="#ee863d"/><rect x="71" y="354" width="24" height="24" fill="#f09555"/><rect x="95" y="354" width="24" height="24" fill="#f1a068"/><rect x="119" y="354" width="24" height="24" fill="#f2a773"/><rect x="143" y="354" width="24" height="24" fill="#f3ae7e"/><rect x="167" y="354" width="24" height="24" fill="#f5b78c"/><rect x="191" y="354" width="24" height="24" fill="#f6c09b"/><rect x="215" y="354" width="24" height="24" fill="#f7c9aa"/><rect x="239" y="354" width="24" height="24" fill="#f8d0b4"/><rect x="263" y="354" width="24" height="24" fill="#f9d6be"/><rect x="287" y="354" width="24" height="24" fill="#fadcc8"/><rect x="311" y="354" width="24" height="24" fill="#fbe3d3"/><rect x="335" y="354" width="24" height="24" fill="#fceade"/><rect x="359" y="354" width="24" height="24" fill="#fdf1e9"/><rect x="383" y="354" width="24" height="24" fill="#fef7f3"/><rect x="407" y="354" width="24" height="24" fill="#fef9f6"/><rect x="431" y="354" width="24" height="24" fill="#fefaf9"/><rect x="455" y="354" width="24" height="24" fill="#fffbfa"/><rect x="479" y="354" width="24" height="24" fill="#fffcfb"/><rect x="503" y="354" width="24" height="24" fill="#fffcfc"/><rect x="527" y="354" width="24" height="24" fill="#fffcfb"/><rect x="551" y="354" width="24" height="24" fill="#fffcfb"/><rect x="575" y="354" width="24" height="24" fill="#fefbf9"/><rect x="599" y="354" width="24" height="24" fill="#fef9f7"/><rect x="623" y="354" width="24" height="24" fill="#fef8f5"/><rect x="647" y="354" width="24" height="24" fill="#fdf2eb"/><rect x="671" y="354" width="24" height="24" fill="#fcece1"/><rect x="695" y="354" width="24" height="24" fill="#fbe5d6"/><rect x="719" y="354" width="24" height="24" fill="#fadecb"/><rect x="743" y="354" width="24" height="24" fill="#f9d8c1"/><rect x="767" y="354" width="24" height="24" fill="#f8d2b7"/><rect x="791" y="354" width="24" height="24" fill="#f8cbad"/><rect x="815" y="354" width="24" height="24" fill="#f6c39f"/><rect x="839" y="354" width="24" height="24" fill="#f5b990"/><rect x="863" y="354" width="24" height="24" fill="#f4b081"/><rect x="887" y="354" width="24" height="24" fill="#f3a975"/><rect x="911" y="354" width="24" height="24" fill="#f2a26b"/><rect x="935" y="354" width="24" height="24" fill="#f0985b"/><rect x="959" y="354" width="24" height="24" fill="#ee8a44"/><rect x="983" y="354" width="24" height="24" fill="#ec7e31"/><rect x="1007" y="354" width="24" height="24" fill="#ec7e31"/><rect x="1031" y="354" width="24" height="24" fill="#ec7e31"/><rect x="-1" y="378" width="24" height="24" fill="#ec7e31"/><rect x="23" y="378" width="24" height="24" fill="#ec7e31"/><rect x="47" y="378" width="24" height="24" fill="#ee863d"/><rect x="71" y="378" width="24" height="24" fill="#f09353"/><rect x="95" y="378" width="24" height="24" fill="#f19f66"/><rect x="119" y="378" width="24" height="24" fill="#f2a670"/><rect x="143" y="378" width="24" height="24" fill="#f3ac7a"/><rect x="167" y="378" width="24" height="24" fill="#f4b589"/><rect x="191" y="378" width="24" height="24" fill="#f6be97"/><rect x="215" y="378" width="24" height="24" fill="#f7c7a5"/><rect x="239" y="378" width="24" height="24" fill="#f8ceb1"/><rect x="263" y="378" width="24" height="24" fill="#f9d4ba"/><rect x="287" y="378" width="24" height="24" fill="#fadac4"/><rect x="311" y="378" width="24" height="24" fill="#fbdfcd"/><rect x="335" y="378" width="24" height="24" fill="#fbe6d8"/><rect x="359" y="378" width="24" height="24" fill="#fcece1"/><rect x="383" y="378" width="24" height="24" fill="#fdf1ea"/><rect x="407" y="378" width="24" height="24" fill="#fef6f2"/><rect x="431" y="378" width="24" height="24" fill="#fef8f5"/><rect x="455" y="378" width="24" height="24" fill="#fef9f7"/><rect x="479" y="378" width="24" height="24" fill="#fefaf7"/><rect x="503" y="378" width="24" height="24" fill="#fefaf8"/><rect x="527" y="378" width="24" height="24" fill="#fefaf8"/><rect x="551" y="378" width="24" height="24" fill="#fef9f7"/><rect x="575" y="378" width="24" height="24" fill="#fef9f6"/><rect x="599" y="378" width="24" height="24" fill="#fef7f3"/><rect x="623" y="378" width="24" height="24" fill="#fdf3ec"/><rect x="647" y="378" width="24" height="24" fill="#fcede3"/><rect x="671" y="378" width="24" height="24" fill="#fce7da"/><rect x="695" y="378" width="24" height="24" fill="#fbe1d0"/><rect x="719" y="378" width="24" height="24" fill="#fadbc6"/><rect x="743" y="378" width="24" height="24" fill="#f9d5bd"/><rect x="767" y="378" width="24" height="24" fill="#f8cfb3"/><rect x="791" y="378" width="24" height="24" fill="#f7c9a9"/><rect x="815" y="378" width="24" height="24" fill="#f6c09b"/><rect x="839" y="378" width="24" height="24" fill="#f5b78c"/><rect x="863" y="378" width="24" height="24" fill="#f3ae7e"/><rect x="887" y="378" width="24" height="24" fill="#f2a773"/><rect x="911" y="378" width="24" height="24" fill="#f1a169"/><rect x="935" y="378" width="24" height="24" fill="#f09759"/><rect x="959" y="378" width="24" height="24" fill="#ee8a44"/><rect x="983" y="378" width="24" height="24" fill="#ec7e31"/><rect x="1007" y="378" width="24" height="24" fill="#ec7e31"/><rect x="1031" y="378" width="24" height="24" fill="#ec7e31"/><rect x="-1" y="402" width="24" height="24" fill="#ec7e31"/><rect x="23" y="402" width="24" height="24" fill="#ec7e31"/><rect x="47" y="402" width="24" height="24" fill="#ee863d"/><rect x="71" y="402" width="24" height="24" fill="#ef9251"/><rect x="95" y="402" width="24" height="24" fill="#f19d63"/><rect x="119" y="402" width="24" height="24" fill="#f2a46d"/><rect x="143" y="402" width="24" height="24" fill="#f3aa77"/><rect x="167" y="402" width="24" height="24" fill="#f4b284"/><rect x="191" y="402" width="24" height="24" fill="#f5ba92"/><rect x="215" y="402" width="24" height="24" fill="#f6c39f"/><rect x="239" y="402" width="24" height="24" fill="#f8cbac"/><rect x="263" y="402" width="24" height="24" fill="#f8d1b6"/><rect x="287" y="402" width="24" height="24" fill="#f9d6bf"/><rect x="311" y="402" width="24" height="24" fill="#fadcc7"/><rect x="335" y="402" width="24" height="24" fill="#fbe1d0"/><rect x="359" y="402" width="24" height="24" fill="#fce6d8"/><rect x="383" y="402" width="24" height="24" fill="#fcebe0"/><rect x="407" y="402" width="24" height="24" fill="#fdefe7"/><rect x="431" y="402" width="24" height="24" fill="#fdf3ec"/><rect x="455" y="402" width="24" height="24" fill="#fef5f0"/><rect x="479" y="402" width="24" height="24" fill="#fef6f2"/><rect x="503" y="402" width="24" height="24" fill="#fef7f3"/><rect x="527" y="402" width="24" height="24" fill="#fef7f2"/><rect x="551" y="402" width="24" height="24" fill="#fef6f1"/><rect x="575" y="402" width="24" height="24" fill="#fdf3ed"/><rect x="599" y="402" width="24" height="24" fill="#fdf0e8"/><rect x="623" y="402" width="24" height="24" fill="#fcece2"/><rect x="647" y="402" width="24" height="24" fill="#fce8db"/><rect x="671" y="402" width="24" height="24" fill="#fbe2d2"/><rect x="695" y="402" width="24" height="24" fill="#faddc9"/><rect x="719" y="402" width="24" height="24" fill="#f9d8c1"/><rect x="743" y="402" width="24" height="24" fill="#f9d2b8"/><rect x="767" y="402" width="24" height="24" fill="#f8ccaf"/><rect x="791" y="402" width="24" height="24" fill="#f7c5a3"/><rect x="815" y="402" width="24" height="24" fill="#f5bd95"/><rect x="839" y="402" width="24" height="24" fill="#f4b487"/><rect x="863" y="402" width="24" height="24" fill="#f3ab7a"/><rect x="887" y="402" width="24" height="24" fill="#f2a570"/><rect x="911" y="402" width="24" height="24" fill="#f19f66"/><rect x="935" y="402" width="24" height="24" fill="#f09657"/><rect x="959" y="402" width="24" height="24" fill="#ee8a44"/><rect x="983" y="402" width="24" height="24" fill="#ec7e31"/><rect x="1007" y="402" width="24" height="24" fill="#ec7e31"/><rect x="1031" y="402" width="24" height="24" fill="#ec7e31"/><rect x="-1" y="426" width="24" height="24" fill="#ec7e31"/><rect x="23" y="426" width="24" height="24" fill="#ec7e31"/><rect x="47" y="426" width="24" height="24" fill="#ee863d"/><rect x="71" y="426" width="24" height="24" fill="#ef9251"/><rect x="95" y="426" width="24" height="24" fill="#f19b60"/><rect x="119" y="426" width="24" height="24" fill="#f2a26a"/><rect x="143" y="426" width="24" height="24" fill="#f2a874"/><rect x="167" y="426" width="24" height="24" fill="#f3ae7e"/><rect x="191" y="426" width="24" height="24" fill="#f5b78c"/><rect x="215" y="426" width="24" height="24" fill="#f6bf99"/><rect x="239" y="426" width="24" height="24" fill="#f7c7a6"/><rect x="263" y="426" width="24" height="24" fill="#f8cdb0"/><rect x="287" y="426" width="24" height="24" fill="#f9d2b8"/><rect x="311" y="426" width="24" height="24" fill="#f9d7c0"/><rect x="335" y="426" width="24" height="24" fill="#fadcc8"/><rect x="359" y="426" width="24" height="24" fill="#fbe1cf"/><rect x="383" y="426" width="24" height="24" fill="#fbe5d6"/><rect x="407" y="426" width="24" height="24" fill="#fce8dc"/><rect x="431" y="426" width="24" height="24" fill="#fcebe0"/><rect x="455" y="426" width="24" height="24" fill="#fcede3"/><rect x="479" y="426" width="24" height="24" fill="#fdeee5"/><rect x="503" y="426" width="24" height="24" fill="#fdefe6"/><rect x="527" y="426" width="24" height="24" fill="#fdeee5"/><rect x="551" y="426" width="24" height="24" fill="#fdeee4"/><rect x="575" y="426" width="24" height="24" fill="#fcece1"/><rect x="599" y="426" width="24" height="24" fill="#fce9dd"/><rect x="623" y="426" width="24" height="24" fill="#fbe6d7"/><rect x="647" y="426" width="24" height="24" fill="#fbe2d1"/><rect x="671" y="426" width="24" height="24" fill="#faddca"/><rect x="695" y="426" width="24" height="24" fill="#fad9c2"/><rect x="719" y="426" width="24" height="24" fill="#f9d4ba"/><rect x="743" y="426" width="24" height="24" fill="#f8cfb2"/><rect x="767" y="426" width="24" height="24" fill="#f7c9a9"/><rect x="791" y="426" width="24" height="24" fill="#f6c19c"/><rect x="815" y="426" width="24" height="24" fill="#f5b98f"/><rect x="839" y="426" width="24" height="24" fill="#f4b081"/><rect x="863" y="426" width="24" height="24" fill="#f3a976"/><rect x="887" y="426" width="24" height="24" fill="#f2a36c"/><rect x="911" y="426" width="24" height="24" fill="#f19d63"/><rect x="935" y="426" width="24" height="24" fill="#f09454"/><rect x="959" y="426" width="24" height="24" fill="#ee8a44"/><rect x="983" y="426" width="24" height="24" fill="#ec7e31"/><rect x="1007" y="426" width="24" height="24" fill="#ec7e31"/><rect x="1031" y="426" width="24" height="24" fill="#ec7e31"/><rect x="-1" y="450" width="24" height="24" fill="#ec7e31"/><rect x="23" y="450" width="24" height="24" fill="#ec7e31"/><rect x="47" y="450" width="24" height="24" fill="#ee863d"/><rect x="71" y="450" width="24" height="24" fill="#ef9251"/><rect x="95" y="450" width="24" height="24" fill="#f0995c"/><rect x="119" y="450" width="24" height="24" fill="#f19f66"/><rect x="143" y="450" width="24" height="24" fill="#f2a56f"/><rect x="167" y="450" width="24" height="24" fill="#f3ab78"/><rect x="191" y="450" width="24" height="24" fill="#f4b284"/><rect x="215" y="450" width="24" height="24" fill="#f5ba91"/><rect x="239" y="450" width="24" height="24" fill="#f6c29d"/><rect x="263" y="450" width="24" height="24" fill="#f7c9a9"/><rect x="287" y="450" width="24" height="24" fill="#f8ceb1"/><rect x="311" y="450" width="24" height="24" fill="#f9d3b9"/><rect x="335" y="450" width="24" height="24" fill="#f9d7c0"/><rect x="359" y="450" width="24" height="24" fill="#fadbc6"/><rect x="383" y="450" width="24" height="24" fill="#fadecb"/><rect x="407" y="450" width="24" height="24" fill="#fbe1d0"/><rect x="431" y="450" width="24" height="24" fill="#fbe4d4"/><rect x="455" y="450" width="24" height="24" fill="#fbe5d6"/><rect x="479" y="450" width="24" height="24" fill="#fbe6d8"/><rect x="503" y="450" width="24" height="24" fill="#fce6d8"/><rect x="527" y="450" width="24" height="24" fill="#fbe6d8"/><rect x="551" y="450" width="24" height="24" fill="#fbe5d7"/><rect x="575" y="450" width="24" height="24" fill="#fbe4d5"/><rect x="599" y="450" width="24" height="24" fill="#fbe2d1"/><rect x="623" y="450" width="24" height="24" fill="#fadfcc"/><rect x="647" y="450" width="24" height="24" fill="#fadcc7"/><rect x="671" y="450" width="24" height="24" fill="#f9d8c1"/><rect x="695" y="450" width="24" height="24" fill="#f9d4bb"/><rect x="719" y="450" width="24" height="24" fill="#f8cfb3"/><rect x="743" y="450" width="24" height="24" fill="#f7caab"/><rect x="767" y="450" width="24" height="24" fill="#f6c3a0"/><rect x="791" y="450" width="24" height="24" fill="#f5bc94"/><rect x="815" y="450" width="24" height="24" fill="#f4b488"/><rect x="839" y="450" width="24" height="24" fill="#f3ac7b"/><rect x="863" y="450" width="24" height="24" fill="#f2a672"/><rect x="887" y="450" width="24" height="24" fill="#f1a168"/><rect x="911" y="450" width="24" height="24" fill="#f19b5f"/><rect x="935" y="450" width="24" height="24" fill="#f09454"/><rect x="959" y="450" width="24" height="24" fill="#ee8a44"/><rect x="983" y="450" width="24" height="24" fill="#ec7e31"/><rect x="1007" y="450" width="24" height="24" fill="#ec7e31"/><rect x="1031" y="450" width="24" height="24" fill="#ec7e31"/><rect x="-1" y="474" width="24" height="24" fill="#ec7e31"/><rect x="23" y="474" width="24" height="24" fill="#ec7e31"/><rect x="47" y="474" width="24" height="24" fill="#ee863d"/><rect x="71" y="474" width="24" height="24" fill="#ef9251"/><rect x="95" y="474" width="24" height="24" fill="#f09759"/><rect x="119" y="474" width="24" height="24" fill="#f19d62"/><rect x="143" y="474" width="24" height="24" fill="#f2a26b"/><rect x="167" y="474" width="24" height="24" fill="#f2a773"/><rect x="191" y="474" width="24" height="24" fill="#f3ad7c"/><rect x="215" y="474" width="24" height="24" fill="#f4b588"/><rect x="239" y="474" width="24" height="24" fill="#f5bc94"/><rect x="263" y="474" width="24" height="24" fill="#f6c39f"/><rect x="287" y="474" width="24" height="24" fill="#f7c9a9"/><rect x="311" y="474" width="24" height="24" fill="#f8ceb1"/><rect x="335" y="474" width="24" height="24" fill="#f8d2b7"/><rect x="359" y="474" width="24" height="24" fill="#f9d5bc"/><rect x="383" y="474" width="24" height="24" fill="#f9d8c1"/><rect x="407" y="474" width="24" height="24" fill="#fadac5"/><rect x="431" y="474" width="24" height="24" fill="#fadcc8"/><rect x="455" y="474" width="24" height="24" fill="#faddca"/><rect x="479" y="474" width="24" height="24" fill="#fadecb"/><rect x="503" y="474" width="24" height="24" fill="#fadecb"/><rect x="527" y="474" width="24" height="24" fill="#fadecb"/><rect x="551" y="474" width="24" height="24" fill="#fadeca"/><rect x="575" y="474" width="24" height="24" fill="#faddc9"/><rect x="599" y="474" width="24" height="24" fill="#fadbc6"/><rect x="623" y="474" width="24" height="24" fill="#fad9c2"/><rect x="647" y="474" width="24" height="24" fill="#f9d6be"/><rect x="671" y="474" width="24" height="24" fill="#f9d2b8"/><rect x="695" y="474" width="24" height="24" fill="#f8cfb2"/><rect x="719" y="474" width="24" height="24" fill="#f7caab"/><rect x="743" y="474" width="24" height="24" fill="#f7c4a2"/><rect x="767" y="474" width="24" height="24" fill="#f6be97"/><rect x="791" y="474" width="24" height="24" fill="#f5b68b"/><rect x="815" y="474" width="24" height="24" fill="#f3af7f"/><rect x="839" y="474" width="24" height="24" fill="#f3a975"/><rect x="863" y="474" width="24" height="24" fill="#f2a36d"/><rect x="887" y="474" width="24" height="24" fill="#f19e64"/><rect x="911" y="474" width="24" height="24" fill="#f0985b"/><rect x="935" y="474" width="24" height="24" fill="#f09454"/><rect x="959" y="474" width="24" height="24" fill="#ee8a44"/><rect x="983" y="474" width="24" height="24" fill="#ec7e31"/><rect x="1007" y="474" width="24" height="24" fill="#ec7e31"/><rect x="1031" y="474" width="24" height="24" fill="#ec7e31"/><rect x="-1" y="498" width="24" height="24" fill="#ec7e31"/><rect x="23" y="498" width="24" height="24" fill="#ec7e31"/><rect x="47" y="498" width="24" height="24" fill="#ed843b"/><rect x="71" y="498" width="24" height="24" fill="#ef9251"/><rect x="95" y="498" width="24" height="24" fill="#f09759"/><rect x="119" y="498" width="24" height="24" fill="#f0995d"/><rect x="143" y="498" width="24" height="24" fill="#f19f65"/><rect x="167" y="498" width="24" height="24" fill="#f2a46e"/><rect x="191" y="498" width="24" height="24" fill="#f3a976"/><rect x="215" y="498" width="24" height="24" fill="#f3af7f"/><rect x="239" y="498" width="24" height="24" fill="#f4b68a"/><rect x="263" y="498" width="24" height="24" fill="#f5bc94"/><rect x="287" y="498" width="24" height="24" fill="#f6c29e"/><rect x="311" y="498" width="24" height="24" fill="#f7c8a7"/><rect x="335" y="498" width="24" height="24" fill="#f8ccae"/><rect x="359" y="498" width="24" height="24" fill="#f8cfb3"/><rect x="383" y="498" width="24" height="24" fill="#f8d2b7"/><rect x="407" y="498" width="24" height="24" fill="#f9d4ba"/><rect x="431" y="498" width="24" height="24" fill="#f9d5bd"/><rect x="455" y="498" width="24" height="24" fill="#f9d6bf"/><rect x="479" y="498" width="24" height="24" fill="#f9d7c0"/><rect x="503" y="498" width="24" height="24" fill="#f9d7c0"/><rect x="527" y="498" width="24" height="24" fill="#f9d7c0"/><rect x="551" y="498" width="24" height="24" fill="#f9d7bf"/><rect x="575" y="498" width="24" height="24" fill="#f9d6be"/><rect x="599" y="498" width="24" height="24" fill="#f9d4bb"/><rect x="623" y="498" width="24" height="24" fill="#f9d2b8"/><rect x="647" y="498" width="24" height="24" fill="#f8d0b4"/><rect x="671" y="498" width="24" height="24" fill="#f8cdaf"/><rect x="695" y="498" width="24" height="24" fill="#f7c9a9"/><rect x="719" y="498" width="24" height="24" fill="#f6c3a0"/><rect x="743" y="498" width="24" height="24" fill="#f6be97"/><rect x="767" y="498" width="24" height="24" fill="#f5b78c"/><rect x="791" y="498" width="24" height="24" fill="#f4b082"/><rect x="815" y="498" width="24" height="24" fill="#f3aa78"/><rect x="839" y="498" width="24" height="24" fill="#f2a570"/><rect x="863" y="498" width="24" height="24" fill="#f1a067"/><rect x="887" y="498" width="24" height="24" fill="#f19b5f"/><rect x="911" y="498" width="24" height="24" fill="#f0985a"/><rect x="935" y="498" width="24" height="24" fill="#f09454"/><rect x="959" y="498" width="24" height="24" fill="#ee8a44"/><rect x="983" y="498" width="24" height="24" fill="#ec7e31"/><rect x="1007" y="498" width="24" height="24" fill="#ec7e31"/><rect x="1031" y="498" width="24" height="24" fill="#ec7e31"/><rect x="-1" y="522" width="24" height="24" fill="#ec7e31"/><rect x="23" y="522" width="24" height="24" fill="#ec7e31"/><rect x="47" y="522" width="24" height="24" fill="#ed8136"/><rect x="71" y="522" width="24" height="24" fill="#ef9251"/><rect x="95" y="522" width="24" height="24" fill="#f09759"/><rect x="119" y="522" width="24" height="24" fill="#f0985a"/><rect x="143" y="522" width="24" height="24" fill="#f19b5f"/><rect x="167" y="522" width="24" height="24" fill="#f1a067"/><rect x="191" y="522" width="24" height="24" fill="#f2a56f"/><rect x="215" y="522" width="24" height="24" fill="#f3aa77"/><rect x="239" y="522" width="24" height="24" fill="#f3af7f"/><rect x="263" y="522" width="24" height="24" fill="#f4b589"/><rect x="287" y="522" width="24" height="24" fill="#f5bb92"/><rect x="311" y="522" width="24" height="24" fill="#f6c09a"/><rect x="335" y="522" width="24" height="24" fill="#f7c4a1"/><rect x="359" y="522" width="24" height="24" fill="#f7c8a8"/><rect x="383" y="522" width="24" height="24" fill="#f8cbad"/><rect x="407" y="522" width="24" height="24" fill="#f8cdb0"/><rect x="431" y="522" width="24" height="24" fill="#f8cfb2"/><rect x="455" y="522" width="24" height="24" fill="#f8d0b4"/><rect x="479" y="522" width="24" height="24" fill="#f8d0b4"/><rect x="503" y="522" width="24" height="24" fill="#f8d0b5"/><rect x="527" y="522" width="24" height="24" fill="#f8d0b5"/><rect x="551" y="522" width="24" height="24" fill="#f8d0b4"/><rect x="575" y="522" width="24" height="24" fill="#f8cfb2"/><rect x="599" y="522" width="24" height="24" fill="#f8cdb0"/><rect x="623" y="522" width="24" height="24" fill="#f8ccad"/><rect x="647" y="522" width="24" height="24" fill="#f7c9a9"/><rect x="671" y="522" width="24" height="24" fill="#f7c5a3"/><rect x="695" y="522" width="24" height="24" fill="#f6c19c"/><rect x="719" y="522" width="24" height="24" fill="#f5bc94"/><rect x="743" y="522" width="24" height="24" fill="#f5b68b"/><rect x="767" y="522" width="24" height="24" fill="#f4b082"/><rect x="791" y="522" width="24" height="24" fill="#f3ab78"/><rect x="815" y="522" width="24" height="24" fill="#f2a671"/><rect x="839" y="522" width="24" height="24" fill="#f2a169"/><rect x="863" y="522" width="24" height="24" fill="#f19c61"/><rect x="887" y="522" width="24" height="24" fill="#f0985a"/><rect x="911" y="522" width="24" height="24" fill="#f0985a"/><rect x="935" y="522" width="24" height="24" fill="#f09454"/><rect x="959" y="522" width="24" height="24" fill="#ee873f"/><rect x="983" y="522" width="24" height="24" fill="#ec7e31"/><rect x="1007" y="522" width="24" height="24" fill="#ec7e31"/><rect x="1031" y="522" width="24" height="24" fill="#ec7e31"/><rect x="-1" y="546" width="24" height="24" fill="#ec7e31"/><rect x="23" y="546" width="24" height="24" fill="#ec7e31"/><rect x="47" y="546" width="24" height="24" fill="#ec7e31"/><rect x="71" y="546" width="24" height="24" fill="#ef904d"/><rect x="95" y="546" width="24" height="24" fill="#f09759"/><rect x="119" y="546" width="24" height="24" fill="#f0985a"/><rect x="143" y="546" width="24" height="24" fill="#f0985a"/><rect x="167" y="546" width="24" height="24" fill="#f19c61"/><rect x="191" y="546" width="24" height="24" fill="#f1a168"/><rect x="215" y="546" width="24" height="24" fill="#f2a56f"/><rect x="239" y="546" width="24" height="24" fill="#f3a976"/><rect x="263" y="546" width="24" height="24" fill="#f3ad7d"/><rect x="287" y="546" width="24" height="24" fill="#f4b385"/><rect x="311" y="546" width="24" height="24" fill="#f5b78d"/><rect x="335" y="546" width="24" height="24" fill="#f5bc94"/><rect x="359" y="546" width="24" height="24" fill="#f6bf9a"/><rect x="383" y="546" width="24" height="24" fill="#f6c29f"/><rect x="407" y="546" width="24" height="24" fill="#f7c5a2"/><rect x="431" y="546" width="24" height="24" fill="#f7c7a5"/><rect x="455" y="546" width="24" height="24" fill="#f7c8a7"/><rect x="479" y="546" width="24" height="24" fill="#f7c9a9"/><rect x="503" y="546" width="24" height="24" fill="#f7c9a9"/><rect x="527" y="546" width="24" height="24" fill="#f7c9a9"/><rect x="551" y="546" width="24" height="24" fill="#f7c8a8"/><rect x="575" y="546" width="24" height="24" fill="#f7c7a6"/><rect x="599" y="546" width="24" height="24" fill="#f7c5a3"/><rect x="623" y="546" width="24" height="24" fill="#f6c3a0"/><rect x="647" y="546" width="24" height="24" fill="#f6c09b"/><rect x="671" y="546" width="24" height="24" fill="#f5bd95"/><rect x="695" y="546" width="24" height="24" fill="#f5b98f"/><rect x="719" y="546" width="24" height="24" fill="#f4b487"/><rect x="743" y="546" width="24" height="24" fill="#f3af7f"/><rect x="767" y="546" width="24" height="24" fill="#f3aa77"/><rect x="791" y="546" width="24" height="24" fill="#f2a671"/><rect x="815" y="546" width="24" height="24" fill="#f2a26a"/><rect x="839" y="546" width="24" height="24" fill="#f19d63"/><rect x="863" y="546" width="24" height="24" fill="#f0985b"/><rect x="887" y="546" width="24" height="24" fill="#f0985a"/><rect x="911" y="546" width="24" height="24" fill="#f0985a"/><rect x="935" y="546" width="24" height="24" fill="#ef9353"/><rect x="959" y="546" width="24" height="24" fill="#ed8339"/><rect x="983" y="546" width="24" height="24" fill="#ec7e31"/><rect x="1007" y="546" width="24" height="24" fill="#ec7e31"/><rect x="1031" y="546" width="24" height="24" fill="#ec7e31"/><rect x="-1" y="570" width="24" height="24" fill="#ec7e31"/><rect x="23" y="570" width="24" height="24" fill="#ec7e31"/><rect x="47" y="570" width="24" height="24" fill="#ec7e31"/><rect x="71" y="570" width="24" height="24" fill="#ee8c47"/><rect x="95" y="570" width="24" height="24" fill="#f09758"/><rect x="119" y="570" width="24" height="24" fill="#f0985a"/><rect x="143" y="570" width="24" height="24" fill="#f0985a"/><rect x="167" y="570" width="24" height="24" fill="#f0985a"/><rect x="191" y="570" width="24" height="24" fill="#f19c61"/><rect x="215" y="570" width="24" height="24" fill="#f1a067"/><rect x="239" y="570" width="24" height="24" fill="#f2a46e"/><rect x="263" y="570" width="24" height="24" fill="#f2a874"/><rect x="287" y="570" width="24" height="24" fill="#f3ab79"/><rect x="311" y="570" width="24" height="24" fill="#f3af7f"/><rect x="335" y="570" width="24" height="24" fill="#f4b386"/><rect x="359" y="570" width="24" height="24" fill="#f5b68b"/><rect x="383" y="570" width="24" height="24" fill="#f5b990"/><rect x="407" y="570" width="24" height="24" fill="#f5bb93"/><rect x="431" y="570" width="24" height="24" fill="#f6bd96"/><rect x="455" y="570" width="24" height="24" fill="#f6be98"/><rect x="479" y="570" width="24" height="24" fill="#f6bf99"/><rect x="503" y="570" width="24" height="24" fill="#f6bf99"/><rect x="527" y="570" width="24" height="24" fill="#f6bf99"/><rect x="551" y="570" width="24" height="24" fill="#f6be98"/><rect x="575" y="570" width="24" height="24" fill="#f6bd96"/><rect x="599" y="570" width="24" height="24" fill="#f5bc94"/><rect x="623" y="570" width="24" height="24" fill="#f5ba91"/><rect x="647" y="570" width="24" height="24" fill="#f5b78c"/><rect x="671" y="570" width="24" height="24" fill="#f4b487"/><rect x="695" y="570" width="24" height="24" fill="#f4b081"/><rect x="719" y="570" width="24" height="24" fill="#f3ac7a"/><rect x="743" y="570" width="24" height="24" fill="#f3a975"/><rect x="767" y="570" width="24" height="24" fill="#f2a56f"/><rect x="791" y="570" width="24" height="24" fill="#f1a169"/><rect x="815" y="570" width="24" height="24" fill="#f19d62"/><rect x="839" y="570" width="24" height="24" fill="#f0995c"/><rect x="863" y="570" width="24" height="24" fill="#f0985a"/><rect x="887" y="570" width="24" height="24" fill="#f0985a"/><rect x="911" y="570" width="24" height="24" fill="#f0985a"/><rect x="935" y="570" width="24" height="24" fill="#ef8f4d"/><rect x="959" y="570" width="24" height="24" fill="#ed8033"/><rect x="983" y="570" width="24" height="24" fill="#ec7e31"/><rect x="1007" y="570" width="24" height="24" fill="#ec7e31"/><rect x="1031" y="570" width="24" height="24" fill="#ec7e31"/><rect x="-1" y="594" width="24" height="24" fill="#ec7e31"/><rect x="23" y="594" width="24" height="24" fill="#ec7e31"/><rect x="47" y="594" width="24" height="24" fill="#ec7e31"/><rect x="71" y="594" width="24" height="24" fill="#ee8840"/><rect x="95" y="594" width="24" height="24" fill="#ef9251"/><rect x="119" y="594" width="24" height="24" fill="#f0985a"/><rect x="143" y="594" width="24" height="24" fill="#f0985a"/><rect x="167" y="594" width="24" height="24" fill="#f0985a"/><rect x="191" y="594" width="24" height="24" fill="#f0985a"/><rect x="215" y="594" width="24" height="24" fill="#f19b5f"/><rect x="239" y="594" width="24" height="24" fill="#f19f65"/><rect x="263" y="594" width="24" height="24" fill="#f2a26b"/><rect x="287" y="594" width="24" height="24" fill="#f2a570"/><rect x="311" y="594" width="24" height="24" fill="#f3a874"/><rect x="335" y="594" width="24" height="24" fill="#f3ab78"/><rect x="359" y="594" width="24" height="24" fill="#f3ad7c"/><rect x="383" y="594" width="24" height="24" fill="#f4b080"/><rect x="407" y="594" width="24" height="24" fill="#f4b284"/><rect x="431" y="594" width="24" height="24" fill="#f4b386"/><rect x="455" y="594" width="24" height="24" fill="#f4b488"/><rect x="479" y="594" width="24" height="24" fill="#f4b589"/><rect x="503" y="594" width="24" height="24" fill="#f4b589"/><rect x="527" y="594" width="24" height="24" fill="#f4b589"/><rect x="551" y="594" width="24" height="24" fill="#f4b488"/><rect x="575" y="594" width="24" height="24" fill="#f4b487"/><rect x="599" y="594" width="24" height="24" fill="#f4b284"/><rect x="623" y="594" width="24" height="24" fill="#f4b081"/><rect x="647" y="594" width="24" height="24" fill="#f3ae7d"/><rect x="671" y="594" width="24" height="24" fill="#f3ab79"/><rect x="695" y="594" width="24" height="24" fill="#f3a975"/><rect x="719" y="594" width="24" height="24" fill="#f2a671"/><rect x="743" y="594" width="24" height="24" fill="#f2a36c"/><rect x="767" y="594" width="24" height="24" fill="#f1a067"/><rect x="791" y="594" width="24" height="24" fill="#f19c61"/><rect x="815" y="594" width="24" height="24" fill="#f0985b"/><rect x="839" y="594" width="24" height="24" fill="#f0985a"/><rect x="863" y="594" width="24" height="24" fill="#f0985a"/><rect x="887" y="594" width="24" height="24" fill="#f0985a"/><rect x="911" y="594" width="24" height="24" fill="#f09454"/><rect x="935" y="594" width="24" height="24" fill="#ee8b46"/><rect x="959" y="594" width="24" height="24" fill="#ec7e31"/><rect x="983" y="594" width="24" height="24" fill="#ec7e31"/><rect x="1007" y="594" width="24" height="24" fill="#ec7e31"/><rect x="1031" y="594" width="24" height="24" fill="#ec7e31"/><rect x="-1" y="618" width="24" height="24" fill="#ec7e31"/><rect x="23" y="618" width="24" height="24" fill="#ec7e31"/><rect x="47" y="618" width="24" height="24" fill="#ec7e31"/><rect x="71" y="618" width="24" height="24" fill="#ed8339"/><rect x="95" y="618" width="24" height="24" fill="#ef8e4a"/><rect x="119" y="618" width="24" height="24" fill="#ef9352"/><rect x="143" y="618" width="24" height="24" fill="#f0985a"/><rect x="167" y="618" width="24" height="24" fill="#f0985a"/><rect x="191" y="618" width="24" height="24" fill="#f0985a"/><rect x="215" y="618" width="24" height="24" fill="#f0985a"/><rect x="239" y="618" width="24" height="24" fill="#f0995d"/><rect x="263" y="618" width="24" height="24" fill="#f19d62"/><rect x="287" y="618" width="24" height="24" fill="#f1a066"/><rect x="311" y="618" width="24" height="24" fill="#f2a26b"/><rect x="335" y="618" width="24" height="24" fill="#f2a46e"/><rect x="359" y="618" width="24" height="24" fill="#f2a672"/><rect x="383" y="618" width="24" height="24" fill="#f2a874"/><rect x="407" y="618" width="24" height="24" fill="#f3a976"/><rect x="431" y="618" width="24" height="24" fill="#f3aa78"/><rect x="455" y="618" width="24" height="24" fill="#f3ab79"/><rect x="479" y="618" width="24" height="24" fill="#f3ab79"/><rect x="503" y="618" width="24" height="24" fill="#f3ab79"/><rect x="527" y="618" width="24" height="24" fill="#f3ab79"/><rect x="551" y="618" width="24" height="24" fill="#f3ab79"/><rect x="575" y="618" width="24" height="24" fill="#f3aa78"/><rect x="599" y="618" width="24" height="24" fill="#f3aa77"/><rect x="623" y="618" width="24" height="24" fill="#f3a875"/><rect x="647" y="618" width="24" height="24" fill="#f2a772"/><rect x="671" y="618" width="24" height="24" fill="#f2a56f"/><rect x="695" y="618" width="24" height="24" fill="#f2a36c"/><rect x="719" y="618" width="24" height="24" fill="#f1a068"/><rect x="743" y="618" width="24" height="24" fill="#f19d63"/><rect x="767" y="618" width="24" height="24" fill="#f09a5e"/><rect x="791" y="618" width="24" height="24" fill="#f0985a"/><rect x="815" y="618" width="24" height="24" fill="#f0985a"/><rect x="839" y="618" width="24" height="24" fill="#f0985a"/><rect x="863" y="618" width="24" height="24" fill="#f0985a"/><rect x="887" y="618" width="24" height="24" fill="#f09454"/><rect x="911" y="618" width="24" height="24" fill="#ef8f4c"/><rect x="935" y="618" width="24" height="24" fill="#ee873f"/><rect x="959" y="618" width="24" height="24" fill="#ec7e31"/><rect x="983" y="618" width="24" height="24" fill="#ec7e31"/><rect x="1007" y="618" width="24" height="24" fill="#ec7e31"/><rect x="1031" y="618" width="24" height="24" fill="#ec7e31"/><rect x="-1" y="642" width="24" height="24" fill="#ec7e31"/><rect x="23" y="642" width="24" height="24" fill="#ec7e31"/><rect x="47" y="642" width="24" height="24" fill="#ec7e31"/><rect x="71" y="642" width="24" height="24" fill="#ed7f32"/><rect x="95" y="642" width="24" height="24" fill="#ee8942"/><rect x="119" y="642" width="24" height="24" fill="#ef8e4a"/><rect x="143" y="642" width="24" height="24" fill="#ef9251"/><rect x="167" y="642" width="24" height="24" fill="#f09758"/><rect x="191" y="642" width="24" height="24" fill="#f0985a"/><rect x="215" y="642" width="24" height="24" fill="#f0985a"/><rect x="239" y="642" width="24" height="24" fill="#f0985a"/><rect x="263" y="642" width="24" height="24" fill="#f0985a"/><rect x="287" y="642" width="24" height="24" fill="#f09a5d"/><rect x="311" y="642" width="24" height="24" fill="#f19c61"/><rect x="335" y="642" width="24" height="24" fill="#f19e64"/><rect x="359" y="642" width="24" height="24" fill="#f1a067"/><rect x="383" y="642" width="24" height="24" fill="#f2a26a"/><rect x="407" y="642" width="24" height="24" fill="#f2a36c"/><rect x="431" y="642" width="24" height="24" fill="#f2a46d"/><rect x="455" y="642" width="24" height="24" fill="#f2a46e"/><rect x="479" y="642" width="24" height="24" fill="#f2a46e"/><rect x="503" y="642" width="24" height="24" fill="#f2a56f"/><rect x="527" y="642" width="24" height="24" fill="#f2a56f"/><rect x="551" y="642" width="24" height="24" fill="#f2a46e"/><rect x="575" y="642" width="24" height="24" fill="#f2a46d"/><rect x="599" y="642" width="24" height="24" fill="#f2a36c"/><rect x="623" y="642" width="24" height="24" fill="#f2a26a"/><rect x="647" y="642" width="24" height="24" fill="#f1a068"/><rect x="671" y="642" width="24" height="24" fill="#f19f65"/><rect x="695" y="642" width="24" height="24" fill="#f19d62"/><rect x="719" y="642" width="24" height="24" fill="#f09a5e"/><rect x="743" y="642" width="24" height="24" fill="#f0985a"/><rect x="767" y="642" width="24" height="24" fill="#f0985a"/><rect x="791" y="642" width="24" height="24" fill="#f0985a"/><rect x="815" y="642" width="24" height="24" fill="#f0985a"/><rect x="839" y="642" width="24" height="24" fill="#f0985a"/><rect x="863" y="642" width="24" height="24" fill="#f09453"/><rect x="887" y="642" width="24" height="24" fill="#ef8f4c"/><rect x="911" y="642" width="24" height="24" fill="#ee8a45"/><rect x="935" y="642" width="24" height="24" fill="#ed8237"/><rect x="959" y="642" width="24" height="24" fill="#ec7e31"/><rect x="983" y="642" width="24" height="24" fill="#ec7e31"/><rect x="1007" y="642" width="24" height="24" fill="#ec7e31"/><rect x="1031" y="642" width="24" height="24" fill="#ec7e31"/></g></g>
<rect x="59.5" y="198.5" width="918" height="393" fill="none" stroke="#d0d0d0" stroke-opacity="0.5" stroke-width="1"/>
<g id="sides">
<path d="M781.38,370.20 L781.11,372.45 L774.97,425.52 L775.25,423.15ZM781.11,372.45 L780.76,374.71 L774.61,427.91 L774.97,425.52ZM780.76,374.71 L780.32,376.97 L774.16,430.29 L774.61,427.91ZM780.32,376.97 L779.80,379.24 L773.63,432.69 L774.16,430.29ZM779.80,379.24 L779.18,381.51 L773.00,435.08 L773.63,432.69ZM779.18,381.51 L778.47,383.79 L772.29,437.47 L773.00,435.08ZM778.47,383.79 L777.67,386.06 L771.49,439.87 L772.29,437.47ZM777.67,386.06 L776.77,388.33 L770.59,442.26 L771.49,439.87ZM776.77,388.33 L775.79,390.60 L769.61,444.66 L770.59,442.26ZM775.79,390.60 L774.71,392.88 L768.54,447.05 L769.61,444.66ZM774.71,392.88 L773.54,395.15 L767.38,449.44 L768.54,447.05ZM773.54,395.15 L772.27,397.41 L766.12,451.83 L767.38,449.44ZM772.27,397.41 L770.91,399.67 L764.77,454.21 L766.12,451.83ZM770.91,399.67 L769.45,401.93 L763.33,456.58 L764.77,454.21Z" fill="#636363"/>
<path d="M316.37,443.90 L313.32,442.13 L318.62,498.83 L321.60,500.69ZM313.32,442.13 L310.35,440.34 L315.71,496.95 L318.62,498.83ZM310.35,440.34 L307.45,438.53 L312.88,495.05 L315.71,496.95ZM307.45,438.53 L304.64,436.69 L310.12,493.13 L312.88,495.05ZM304.64,436.69 L301.90,434.84 L307.44,491.18 L310.12,493.13ZM301.90,434.84 L299.24,432.97 L304.83,489.22 L307.44,491.18ZM299.24,432.97 L296.66,431.09 L302.30,487.24 L304.83,489.22ZM296.66,431.09 L294.15,429.18 L299.85,485.24 L302.30,487.24ZM294.15,429.18 L291.73,427.26 L297.47,483.22 L299.85,485.24ZM291.73,427.26 L289.39,425.33 L295.17,481.19 L297.47,483.22ZM289.39,425.33 L287.12,423.38 L292.95,479.14 L295.17,481.19ZM287.12,423.38 L284.94,421.41 L290.80,477.07 L292.95,479.14ZM284.94,421.41 L282.83,419.44 L288.73,475.00 L290.80,477.07ZM282.83,419.44 L280.81,417.45 L286.74,472.91 L288.73,475.00ZM280.81,417.45 L278.87,415.45 L284.83,470.81 L286.74,472.91ZM278.87,415.45 L277.00,413.44 L283.00,468.69 L284.83,470.81ZM277.00,413.44 L275.22,411.42 L281.24,466.57 L283.00,468.69ZM275.22,411.42 L273.52,409.40 L279.56,464.44 L281.24,466.57ZM273.52,409.40 L271.89,407.36 L277.96,462.30 L279.56,464.44ZM271.89,407.36 L270.35,405.32 L276.44,460.15 L277.96,462.30ZM270.35,405.32 L268.89,403.27 L275.00,458.00 L276.44,460.15ZM268.89,403.27 L267.50,401.22 L273.63,455.83 L275.00,458.00ZM267.50,401.22 L266.20,399.16 L272.34,453.67 L273.63,455.83ZM266.20,399.16 L264.97,397.10 L271.12,451.50 L272.34,453.67ZM264.97,397.10 L263.82,395.03 L269.99,449.32 L271.12,451.50ZM263.82,395.03 L262.76,392.96 L268.92,447.14 L269.99,449.32ZM262.76,392.96 L261.76,390.89 L267.94,444.96 L268.92,447.14ZM261.76,390.89 L260.85,388.82 L267.03,442.78 L267.94,444.96ZM260.85,388.82 L260.01,386.74 L266.20,440.59 L267.03,442.78ZM260.01,386.74 L259.26,384.67 L265.44,438.41 L266.20,440.59ZM259.26,384.67 L258.57,382.60 L264.75,436.22 L265.44,438.41ZM258.57,382.60 L257.96,380.53 L264.14,434.04 L264.75,436.22ZM257.96,380.53 L257.43,378.46 L263.60,431.86 L264.14,434.04ZM257.43,378.46 L256.98,376.39 L263.14,429.68 L263.60,431.86ZM256.98,376.39 L256.59,374.32 L262.74,427.50 L263.14,429.68ZM256.59,374.32 L256.28,372.26 L262.42,425.33 L262.74,427.50Z" fill="#ED7D31"/>
<path d="M769.45,401.93 L767.88,404.20 L761.78,458.98 L763.33,456.58ZM767.88,404.20 L766.21,406.47 L760.13,461.36 L761.78,458.98ZM766.21,406.47 L764.45,408.73 L758.39,463.74 L760.13,461.36ZM764.45,408.73 L762.58,410.99 L756.55,466.11 L758.39,463.74ZM762.58,410.99 L760.62,413.23 L754.62,468.47 L756.55,466.11ZM760.62,413.23 L758.55,415.46 L752.59,470.81 L754.62,468.47ZM758.55,415.46 L756.39,417.67 L750.46,473.14 L752.59,470.81ZM756.39,417.67 L754.13,419.88 L748.24,475.46 L750.46,473.14ZM754.13,419.88 L751.77,422.06 L745.92,477.76 L748.24,475.46ZM751.77,422.06 L749.31,424.24 L743.51,480.04 L745.92,477.76ZM749.31,424.24 L746.76,426.39 L741.00,482.31 L743.51,480.04ZM746.76,426.39 L744.10,428.53 L738.39,484.55 L741.00,482.31Z" fill="#997300"/>
<path d="M744.10,428.53 L741.53,430.51 L735.87,486.64 L738.39,484.55ZM741.53,430.51 L738.87,432.48 L733.27,488.70 L735.87,486.64ZM738.87,432.48 L736.13,434.43 L730.58,490.74 L733.27,488.70ZM736.13,434.43 L733.30,436.35 L727.81,492.77 L730.58,490.74ZM733.30,436.35 L730.39,438.26 L724.96,494.77 L727.81,492.77ZM730.39,438.26 L727.39,440.14 L722.02,496.75 L724.96,494.77ZM727.39,440.14 L724.31,442.01 L719.01,498.70 L722.02,496.75ZM724.31,442.01 L721.15,443.85 L715.92,500.63 L719.01,498.70ZM721.15,443.85 L717.91,445.66 L712.75,502.54 L715.92,500.63ZM717.91,445.66 L714.58,447.45 L709.50,504.42 L712.75,502.54ZM714.58,447.45 L711.18,449.21 L706.17,506.27 L709.50,504.42ZM711.18,449.21 L707.70,450.95 L702.77,508.09 L706.17,506.27ZM707.70,450.95 L704.14,452.66 L699.29,509.88 L702.77,508.09ZM704.14,452.66 L700.50,454.34 L695.73,511.64 L699.29,509.88ZM700.50,454.34 L696.78,455.99 L692.10,513.37 L695.73,511.64ZM696.78,455.99 L692.99,457.60 L688.40,515.06 L692.10,513.37ZM692.99,457.60 L689.13,459.19 L684.63,516.73 L688.40,515.06ZM689.13,459.19 L685.19,460.74 L680.79,518.36 L684.63,516.73ZM685.19,460.74 L681.18,462.26 L676.88,519.95 L680.79,518.36ZM681.18,462.26 L677.10,463.75 L672.90,521.51 L676.88,519.95ZM677.10,463.75 L672.95,465.20 L668.85,523.03 L672.90,521.51ZM672.95,465.20 L668.74,466.61 L664.74,524.51 L668.85,523.03ZM668.74,466.61 L664.46,467.99 L660.57,525.95 L664.74,524.51Z" fill="#264478"/>
<path d="M664.46,467.99 L660.31,469.27 L656.53,527.29 L660.57,525.95ZM660.31,469.27 L656.11,470.52 L652.43,528.60 L656.53,527.29ZM656.11,470.52 L651.84,471.73 L648.28,529.86 L652.43,528.60ZM651.84,471.73 L647.53,472.90 L644.07,531.09 L648.28,529.86ZM647.53,472.90 L643.16,474.03 L639.82,532.28 L644.07,531.09ZM643.16,474.03 L638.74,475.13 L635.51,533.43 L639.82,532.28ZM638.74,475.13 L634.27,476.19 L631.16,534.54 L635.51,533.43ZM634.27,476.19 L629.76,477.21 L626.76,535.61 L631.16,534.54ZM629.76,477.21 L625.19,478.19 L622.32,536.63 L626.76,535.61ZM625.19,478.19 L620.59,479.13 L617.83,537.62 L622.32,536.63ZM620.59,479.13 L615.94,480.03 L613.30,538.56 L617.83,537.62ZM615.94,480.03 L611.24,480.89 L608.74,539.46 L613.30,538.56ZM611.24,480.89 L606.51,481.71 L604.13,540.31 L608.74,539.46ZM606.51,481.71 L601.75,482.48 L599.49,541.12 L604.13,540.31ZM601.75,482.48 L596.95,483.21 L594.82,541.89 L599.49,541.12ZM596.95,483.21 L592.11,483.90 L590.11,542.61 L594.82,541.89ZM592.11,483.90 L587.24,484.55 L585.38,543.28 L590.11,542.61ZM587.24,484.55 L582.35,485.15 L580.61,543.91 L585.38,543.28ZM582.35,485.15 L577.42,485.70 L575.82,544.50 L580.61,543.91ZM577.42,485.70 L572.48,486.22 L571.01,545.03 L575.82,544.50ZM572.48,486.22 L567.50,486.68 L566.17,545.52 L571.01,545.03ZM567.50,486.68 L562.51,487.11 L561.31,545.96 L566.17,545.52ZM562.51,487.11 L557.50,487.48 L556.44,546.36 L561.31,545.96ZM557.50,487.48 L552.47,487.82 L551.55,546.70 L556.44,546.36ZM552.47,487.82 L547.43,488.10 L546.64,547.00 L551.55,546.70ZM547.43,488.10 L542.37,488.34 L541.73,547.25 L546.64,547.00ZM542.37,488.34 L537.31,488.53 L536.80,547.46 L541.73,547.25ZM537.31,488.53 L532.24,488.68 L531.87,547.61 L536.80,547.46ZM532.24,488.68 L527.16,488.78 L526.93,547.71 L531.87,547.61ZM527.16,488.78 L522.07,488.83 L521.98,547.77 L526.93,547.71ZM522.07,488.83 L516.99,488.84 L517.04,547.78 L521.98,547.77ZM516.99,488.84 L511.91,488.80 L512.09,547.74 L517.04,547.78ZM511.91,488.80 L506.82,488.72 L507.15,547.65 L512.09,547.74ZM506.82,488.72 L501.75,488.59 L502.21,547.51 L507.15,547.65ZM501.75,488.59 L496.68,488.41 L497.28,547.32 L502.21,547.51ZM496.68,488.41 L491.62,488.18 L492.36,547.09 L497.28,547.32ZM491.62,488.18 L486.58,487.91 L487.45,546.81 L492.36,547.09ZM486.58,487.91 L481.54,487.60 L482.56,546.47 L487.45,546.81ZM481.54,487.60 L476.53,487.23 L477.68,546.10 L482.56,546.47ZM476.53,487.23 L471.53,486.83 L472.82,545.67 L477.68,546.10ZM471.53,486.83 L466.55,486.37 L467.97,545.20 L472.82,545.67ZM466.55,486.37 L461.59,485.88 L463.15,544.67 L467.97,545.20ZM461.59,485.88 L456.66,485.33 L458.35,544.11 L463.15,544.67ZM456.66,485.33 L451.76,484.75 L453.58,543.49 L458.35,544.11ZM451.76,484.75 L446.88,484.11 L448.83,542.83 L453.58,543.49ZM446.88,484.11 L442.03,483.44 L444.12,542.13 L448.83,542.83ZM442.03,483.44 L437.22,482.72 L439.43,541.37 L444.12,542.13ZM437.22,482.72 L432.44,481.96 L434.78,540.58 L439.43,541.37ZM432.44,481.96 L427.70,481.16 L430.17,539.74 L434.78,540.58ZM427.70,481.16 L423.00,480.31 L425.59,538.85 L430.17,539.74ZM423.00,480.31 L418.33,479.43 L421.05,537.93 L425.59,538.85ZM418.33,479.43 L413.71,478.50 L416.55,536.95 L421.05,537.93ZM413.71,478.50 L409.13,477.53 L412.09,535.94 L416.55,536.95ZM409.13,477.53 L404.60,476.52 L407.68,534.89 L412.09,535.94ZM404.60,476.52 L400.12,475.48 L403.31,533.79 L407.68,534.89ZM400.12,475.48 L395.68,474.39 L398.99,532.65 L403.31,533.79ZM395.68,474.39 L391.30,473.27 L394.72,531.48 L398.99,532.65ZM391.30,473.27 L386.96,472.11 L390.50,530.26 L394.72,531.48ZM386.96,472.11 L382.69,470.91 L386.33,529.01 L390.50,530.26ZM382.69,470.91 L378.46,469.68 L382.21,527.72 L386.33,529.01ZM378.46,469.68 L374.30,468.41 L378.15,526.39 L382.21,527.72ZM374.30,468.41 L370.19,467.11 L374.14,525.02 L378.15,526.39ZM370.19,467.11 L366.14,465.77 L370.20,523.62 L374.14,525.02ZM366.14,465.77 L362.15,464.40 L366.31,522.18 L370.20,523.62ZM362.15,464.40 L358.22,462.99 L362.48,520.71 L366.31,522.18ZM358.22,462.99 L354.36,461.56 L358.71,519.21 L362.48,520.71ZM354.36,461.56 L350.56,460.09 L355.01,517.67 L358.71,519.21ZM350.56,460.09 L346.83,458.60 L351.36,516.11 L355.01,517.67ZM346.83,458.60 L343.17,457.07 L347.79,514.51 L351.36,516.11ZM343.17,457.07 L339.57,455.52 L344.27,512.88 L347.79,514.51ZM339.57,455.52 L336.04,453.94 L340.83,511.22 L344.27,512.88ZM336.04,453.94 L332.58,452.33 L337.45,509.53 L340.83,511.22ZM332.58,452.33 L329.20,450.69 L334.14,507.81 L337.45,509.53ZM329.20,450.69 L325.88,449.03 L330.90,506.07 L334.14,507.81ZM325.88,449.03 L322.64,447.34 L327.73,504.30 L330.90,506.07ZM322.64,447.34 L319.46,445.63 L324.63,502.51 L327.73,504.30ZM319.46,445.63 L316.37,443.90 L321.60,500.69 L324.63,502.51Z" fill="#5B9BD5"/>
</g>
<rect x="250" y="330" width="540" height="230" fill="url(#shade)" clip-path="url(#sideclip)"/>
<line x1="781.55" y1="367.95" x2="775.44" y2="420.77" stroke="#fff" stroke-opacity="0.6" stroke-width="1"/>
<line x1="769.45" y1="401.93" x2="763.33" y2="456.58" stroke="#fff" stroke-opacity="0.6" stroke-width="1"/>
<line x1="744.10" y1="428.53" x2="738.39" y2="484.55" stroke="#fff" stroke-opacity="0.6" stroke-width="1"/>
<line x1="664.46" y1="467.99" x2="660.57" y2="525.95" stroke="#fff" stroke-opacity="0.6" stroke-width="1"/>
<line x1="316.37" y1="443.90" x2="321.60" y2="500.69" stroke="#fff" stroke-opacity="0.6" stroke-width="1"/>
<polyline points="774.41,429.02 774.06,430.77 773.66,432.53 773.22,434.28 772.73,436.04 772.19,437.79 771.60,439.55 770.96,441.31 770.28,443.06 769.54,444.82 768.76,446.57 767.93,448.32 767.05,450.07 766.12,451.82 765.14,453.57 764.11,455.31 763.04,457.05 761.91,458.78 760.73,460.52 759.50,462.24 758.22,463.96 756.89,465.68 755.51,467.39 754.08,469.09 752.60,470.79 751.07,472.48 749.49,474.16 747.86,475.84 746.18,477.51 744.45,479.16 742.67,480.81 740.84,482.45 738.96,484.08 737.03,485.69 735.04,487.30 733.01,488.89 730.94,490.48 728.81,492.05 726.63,493.60 724.40,495.15 722.13,496.68 719.81,498.20 717.44,499.70 715.02,501.18 712.55,502.65 710.04,504.11 707.48,505.54 704.88,506.97 702.23,508.37 699.53,509.75 696.79,511.12 694.01,512.47 691.18,513.80 688.31,515.11 685.39,516.40 682.43,517.67 679.44,518.91 676.40,520.14 673.32,521.35 670.20,522.53 667.04,523.69 663.84,524.83 660.60,525.94 657.33,527.03 654.02,528.10 650.68,529.14 647.30,530.15 643.88,531.14 640.44,532.11 636.96,533.05 633.44,533.96 629.90,534.85 626.33,535.71 622.73,536.54 619.10,537.34 615.44,538.12 611.76,538.87 608.05,539.59 604.31,540.28 600.56,540.94 596.78,541.57 592.97,542.18 589.15,542.75 585.31,543.29 581.45,543.81 577.58,544.29 573.68,544.74 569.77,545.16 565.85,545.55 561.91,545.91 557.96,546.24 554.01,546.54 550.04,546.80 546.06,547.04 542.07,547.24 538.08,547.41 534.08,547.55 530.08,547.65 526.07,547.73 522.07,547.77 518.06,547.78 514.05,547.76 510.04,547.71 506.04,547.62 502.04,547.50 498.04,547.36 494.05,547.17 490.07,546.96 486.09,546.72 482.13,546.44 478.17,546.14 474.23,545.80 470.29,545.43 466.38,545.03 462.47,544.60 458.58,544.13 454.71,543.64 450.86,543.12 447.02,542.57 443.21,541.98 439.41,541.37 435.64,540.73 431.89,540.06 428.17,539.36 424.47,538.63 420.79,537.87 417.14,537.09 413.52,536.27 409.93,535.43 406.37,534.56 402.83,533.67 399.33,532.75 395.86,531.80 392.43,530.82 389.02,529.83 385.65,528.80 382.32,527.75 379.02,526.68 375.76,525.58 372.54,524.46 369.35,523.31 366.21,522.15 363.10,520.96 360.03,519.74 357.01,518.51 354.02,517.26 351.08,515.98 348.18,514.68 345.32,513.37 342.50,512.03 339.73,510.68 337.01,509.31 334.33,507.91 331.69,506.50 329.10,505.08 326.56,503.64 324.06,502.18 321.61,500.70 319.21,499.21 316.86,497.70 314.55,496.18 312.29,494.65 310.08,493.10 307.92,491.54 305.81,489.96 303.74,488.38 301.73,486.78 299.76,485.17 297.85,483.55 295.98,481.92 294.17,480.27 292.40,478.62 290.69,476.96 289.02,475.29 287.41,473.62 285.85,471.93 284.33,470.24 282.87,468.54 281.46,466.83 280.09,465.12 278.78,463.40 277.52,461.68 276.31,459.95 275.14,458.22 274.03,456.48 272.97,454.74 271.96,453.00 270.99,451.25 270.08,449.50 269.22,447.75 268.40,446.00 267.63,444.25 266.92,442.49 266.25,440.73 265.63,438.98 265.05,437.22 264.53,435.47 264.05,433.71 263.62,431.96 263.24,430.20" fill="none" stroke="#fff" stroke-opacity="0.45" stroke-width="1"/>
<g id="tops">
<polygon points="518.71,340.90 530.81,240.25 534.42,240.34 538.02,240.45 541.61,240.59 545.21,240.75 548.80,240.93 552.38,241.14 555.96,241.37 559.54,241.63 563.11,241.90 566.67,242.20 570.22,242.53 573.77,242.87 577.31,243.24 580.84,243.64 584.36,244.06 587.88,244.50 591.38,244.96 594.87,245.45 598.35,245.96 601.82,246.49 605.27,247.05 608.72,247.63 612.15,248.23 615.56,248.86 618.96,249.51 622.35,250.18 625.71,250.88 629.07,251.60 632.40,252.34 635.72,253.11 639.02,253.90 642.30,254.71 645.56,255.54" fill="#4472C4" stroke="#fff" stroke-opacity="0.55" stroke-width="1.2" stroke-linejoin="round"/>
<polygon points="518.71,340.90 645.56,255.54 648.78,256.40 651.98,257.27 655.16,258.17 658.31,259.09 661.45,260.04 664.56,261.00 667.65,261.99 670.71,263.00 673.75,264.03 676.76,265.09 679.75,266.17 682.70,267.27 685.64,268.39 688.54,269.54 691.41,270.70 694.25,271.89 697.07,273.10 699.85,274.33 702.60,275.59 705.31,276.86 708.00,278.16 710.65,279.48 713.26,280.82 715.84,282.18 718.38,283.56 720.88,284.96 723.35,286.39 725.78,287.83 728.16,289.30" fill="#70AD47" stroke="#fff" stroke-opacity="0.55" stroke-width="1.2" stroke-linejoin="round"/>
<polygon points="518.71,340.90 728.16,289.30 730.55,290.81 732.90,292.34 735.20,293.89 737.46,295.47 739.67,297.06 741.83,298.68 743.95,300.31 746.02,301.97 748.04,303.64 750.02,305.34 751.94,307.05 753.81,308.78 755.63,310.53 757.39,312.30 759.10,314.09 760.76,315.90 762.36,317.72 763.90,319.56 765.39,321.42 766.81,323.29 768.18,325.18 769.49,327.09 770.73,329.01 771.92,330.95" fill="#255E91" stroke="#fff" stroke-opacity="0.55" stroke-width="1.2" stroke-linejoin="round"/>
<polygon points="518.71,340.90 771.92,330.95 773.04,332.90 774.09,334.87 775.08,336.85 776.01,338.84 776.86,340.85 777.66,342.87 778.38,344.90 779.03,346.95 779.61,349.01 780.12,351.07 780.56,353.15 780.93,355.24 781.22,357.34 781.44,359.44 781.58,361.56 781.65,363.68 781.64,365.81 781.55,367.95" fill="#9E480E" stroke="#fff" stroke-opacity="0.55" stroke-width="1.2" stroke-linejoin="round"/>
<polygon points="518.71,340.90 781.55,367.95 781.38,370.20 781.11,372.45 780.76,374.71 780.32,376.97 779.80,379.24 779.18,381.51 778.47,383.79 777.67,386.06 776.77,388.33 775.79,390.60 774.71,392.88 773.54,395.15 772.27,397.41 770.91,399.67 769.45,401.93" fill="#636363" stroke="#fff" stroke-opacity="0.55" stroke-width="1.2" stroke-linejoin="round"/>
<polygon points="518.71,340.90 769.45,401.93 767.88,404.20 766.21,406.47 764.45,408.73 762.58,410.99 760.62,413.23 758.55,415.46 756.39,417.67 754.13,419.88 751.77,422.06 749.31,424.24 746.76,426.39 744.10,428.53" fill="#997300" stroke="#fff" stroke-opacity="0.55" stroke-width="1.2" stroke-linejoin="round"/>
<polygon points="518.71,340.90 744.10,428.53 741.53,430.51 738.87,432.48 736.13,434.43 733.30,436.35 730.39,438.26 727.39,440.14 724.31,442.01 721.15,443.85 717.91,445.66 714.58,447.45 711.18,449.21 707.70,450.95 704.14,452.66 700.50,454.34 696.78,455.99 692.99,457.60 689.13,459.19 685.19,460.74 681.18,462.26 677.10,463.75 672.95,465.20 668.74,466.61 664.46,467.99" fill="#264478" stroke="#fff" stroke-opacity="0.55" stroke-width="1.2" stroke-linejoin="round"/>
<polygon points="518.71,340.90 664.46,467.99 660.31,469.27 656.11,470.52 651.84,471.73 647.53,472.90 643.16,474.03 638.74,475.13 634.27,476.19 629.76,477.21 625.19,478.19 620.59,479.13 615.94,480.03 611.24,480.89 606.51,481.71 601.75,482.48 596.95,483.21 592.11,483.90 587.24,484.55 582.35,485.15 577.42,485.70 572.48,486.22 567.50,486.68 562.51,487.11 557.50,487.48 552.47,487.82 547.43,488.10 542.37,488.34 537.31,488.53 532.24,488.68 527.16,488.78 522.07,488.83 516.99,488.84 511.91,488.80 506.82,488.72 501.75,488.59 496.68,488.41 491.62,488.18 486.58,487.91 481.54,487.60 476.53,487.23 471.53,486.83 466.55,486.37 461.59,485.88 456.66,485.33 451.76,484.75 446.88,484.11 442.03,483.44 437.22,482.72 432.44,481.96 427.70,481.16 423.00,480.31 418.33,479.43 413.71,478.50 409.13,477.53 404.60,476.52 400.12,475.48 395.68,474.39 391.30,473.27 386.96,472.11 382.69,470.91 378.46,469.68 374.30,468.41 370.19,467.11 366.14,465.77 362.15,464.40 358.22,462.99 354.36,461.56 350.56,460.09 346.83,458.60 343.17,457.07 339.57,455.52 336.04,453.94 332.58,452.33 329.20,450.69 325.88,449.03 322.64,447.34 319.46,445.63 316.37,443.90" fill="#5B9BD5" stroke="#fff" stroke-opacity="0.55" stroke-width="1.2" stroke-linejoin="round"/>
<polygon points="518.71,340.90 316.37,443.90 313.32,442.13 310.35,440.34 307.45,438.53 304.64,436.69 301.90,434.84 299.24,432.97 296.66,431.09 294.15,429.18 291.73,427.26 289.39,425.33 287.12,423.38 284.94,421.41 282.83,419.44 280.81,417.45 278.87,415.45 277.00,413.44 275.22,411.42 273.52,409.40 271.89,407.36 270.35,405.32 268.89,403.27 267.50,401.22 266.20,399.16 264.97,397.10 263.82,395.03 262.76,392.96 261.76,390.89 260.85,388.82 260.01,386.74 259.26,384.67 258.57,382.60 257.96,380.53 257.43,378.46 256.98,376.39 256.59,374.32 256.28,372.26 256.05,370.21 255.88,368.16 255.79,366.11 255.77,364.07 255.82,362.04 255.94,360.01 256.13,357.99 256.38,355.98 256.71,353.98 257.10,351.98 257.56,350.00 258.08,348.02 258.67,346.06 259.32,344.10 260.04,342.16 260.81,340.23 261.65,338.31 262.56,336.40 263.52,334.51 264.54,332.63" fill="#ED7D31" stroke="#fff" stroke-opacity="0.55" stroke-width="1.2" stroke-linejoin="round"/>
<polygon points="518.71,340.90 264.54,332.63 265.62,330.76 266.76,328.90 267.96,327.05 269.21,325.22 270.52,323.41 271.89,321.61 273.31,319.82 274.78,318.05 276.30,316.30 277.88,314.56 279.51,312.84 281.19,311.14 282.91,309.45 284.69,307.78 286.51,306.13 288.38,304.49 290.30,302.87 292.26,301.27 294.27,299.69 296.32,298.13 298.41,296.59 300.55,295.06 302.72,293.55 304.94,292.07 307.20,290.60 309.50,289.15 311.83,287.72 314.21,286.31 316.62,284.92 319.06,283.55 321.55,282.20 324.06,280.87 326.61,279.56 329.20,278.27 331.82,277.00 334.47,275.75 337.15,274.53 339.86,273.32 342.60,272.13 345.37,270.97 348.17,269.82 351.00,268.70 353.85,267.60 356.74,266.51 359.64,265.45 362.58,264.42 365.54,263.40 368.52,262.40 371.53,261.43 374.55,260.47" fill="#A5A5A5" stroke="#fff" stroke-opacity="0.55" stroke-width="1.2" stroke-linejoin="round"/>
<polygon points="518.71,340.90 374.55,260.47 377.64,259.53 380.74,258.61 383.87,257.71 387.02,256.84 390.19,255.99 393.38,255.15 396.59,254.34 399.81,253.56 403.06,252.79 406.32,252.05 409.60,251.33 412.89,250.63 416.20,249.96 419.53,249.30 422.87,248.67 426.22,248.06 429.59,247.48 432.97,246.91 436.37,246.37 439.77,245.85 443.19,245.36 446.62,244.88 450.06,244.43 453.50,244.00 456.96,243.59 460.43,243.21 463.90,242.85 467.38,242.51 470.87,242.19 474.37,241.90 477.87,241.63 481.38,241.38 484.89,241.15 488.41,240.95 491.93,240.76 495.46,240.60 498.99,240.47 502.52,240.35 506.05,240.26 509.59,240.19 513.13,240.15 516.66,240.12 520.20,240.12 523.74,240.14 527.28,240.18 530.81,240.25" fill="#FFC000" stroke="#fff" stroke-opacity="0.55" stroke-width="1.2" stroke-linejoin="round"/>
</g>
<polyline points="692.5,269.2 769.5,232.5 774,232.5" fill="none" stroke="#8c8c8c" stroke-opacity="0.55" stroke-width="1"/><polyline points="756,307 786,271.8 790.5,271.8" fill="none" stroke="#8c8c8c" stroke-opacity="0.55" stroke-width="1"/><polyline points="781.8,348.5 817,346.5" fill="none" stroke="#8c8c8c" stroke-opacity="0.55" stroke-width="1"/><polyline points="773.6,441.4 833,454.3 841,454.3" fill="none" stroke="#8c8c8c" stroke-opacity="0.55" stroke-width="1"/><polyline points="754,473 828,514.5 836,514.5" fill="none" stroke="#8c8c8c" stroke-opacity="0.55" stroke-width="1"/><polyline points="706.5,511 745.3,576.3 752,576.3" fill="none" stroke="#8c8c8c" stroke-opacity="0.55" stroke-width="1"/>
<text x="582.7" y="236.0" textLength="121.6" lengthAdjust="spacingAndGlyphs" font-size="12" font-weight="bold" fill="#151515" stroke="#151515" stroke-width="0.15" >Marcos Rogerio; 8,7</text><text x="402.6" y="271.5" textLength="120.9" lengthAdjust="spacingAndGlyphs" font-size="12" font-weight="bold" fill="#151515" stroke="#151515" stroke-width="0.15" >Jesualdo Pires; 11,9</text><text x="298.6" y="316.5" textLength="114.6" lengthAdjust="spacingAndGlyphs" font-size="12" font-weight="bold" fill="#151515" stroke="#151515" stroke-width="0.15" >Marcelo Cruz; 12,8</text><text x="266.2" y="373.7" textLength="109.1" lengthAdjust="spacingAndGlyphs" font-size="12" font-weight="bold" fill="#151515" stroke="#151515" stroke-width="0.15" >Acir Gurgacz; 14,3</text><text x="421.2" y="469.8" textLength="120.1" lengthAdjust="spacingAndGlyphs" font-size="12" font-weight="bold" fill="#151515" stroke="#151515" stroke-width="0.15" >Marcos Rocha; 19,5</text><text x="775.3" y="232.8" textLength="111.1" lengthAdjust="spacingAndGlyphs" font-size="12" font-weight="bold" fill="#151515" stroke="#151515" stroke-width="0.15" >Carlos Magno; 7,6</text><text x="791.5" y="272.2" textLength="96.9" lengthAdjust="spacingAndGlyphs" font-size="12" font-weight="bold" fill="#151515" stroke="#151515" stroke-width="0.15" >Amir Lando; 6,4</text><text x="819.4" y="346.5" textLength="126.3" lengthAdjust="spacingAndGlyphs" font-size="12" font-weight="bold" fill="#151515" stroke="#151515" stroke-width="0.15" >Daniela Amorim; 4,8</text><text x="842.4" y="454.9" textLength="94.0" lengthAdjust="spacingAndGlyphs" font-size="12" font-weight="bold" fill="#151515" stroke="#151515" stroke-width="0.15" >Leo Morais; 4,2</text><text x="837.7" y="514.6" textLength="109.2" lengthAdjust="spacingAndGlyphs" font-size="12" font-weight="bold" fill="#151515" stroke="#151515" stroke-width="0.15" >Fátima Cleide; 3,4</text><text x="754.1" y="576.4" textLength="114.5" lengthAdjust="spacingAndGlyphs" font-size="12" font-weight="bold" fill="#151515" stroke="#151515" stroke-width="0.15" >Outros Nomes; 6,1</text>
</svg>
</body></html>
